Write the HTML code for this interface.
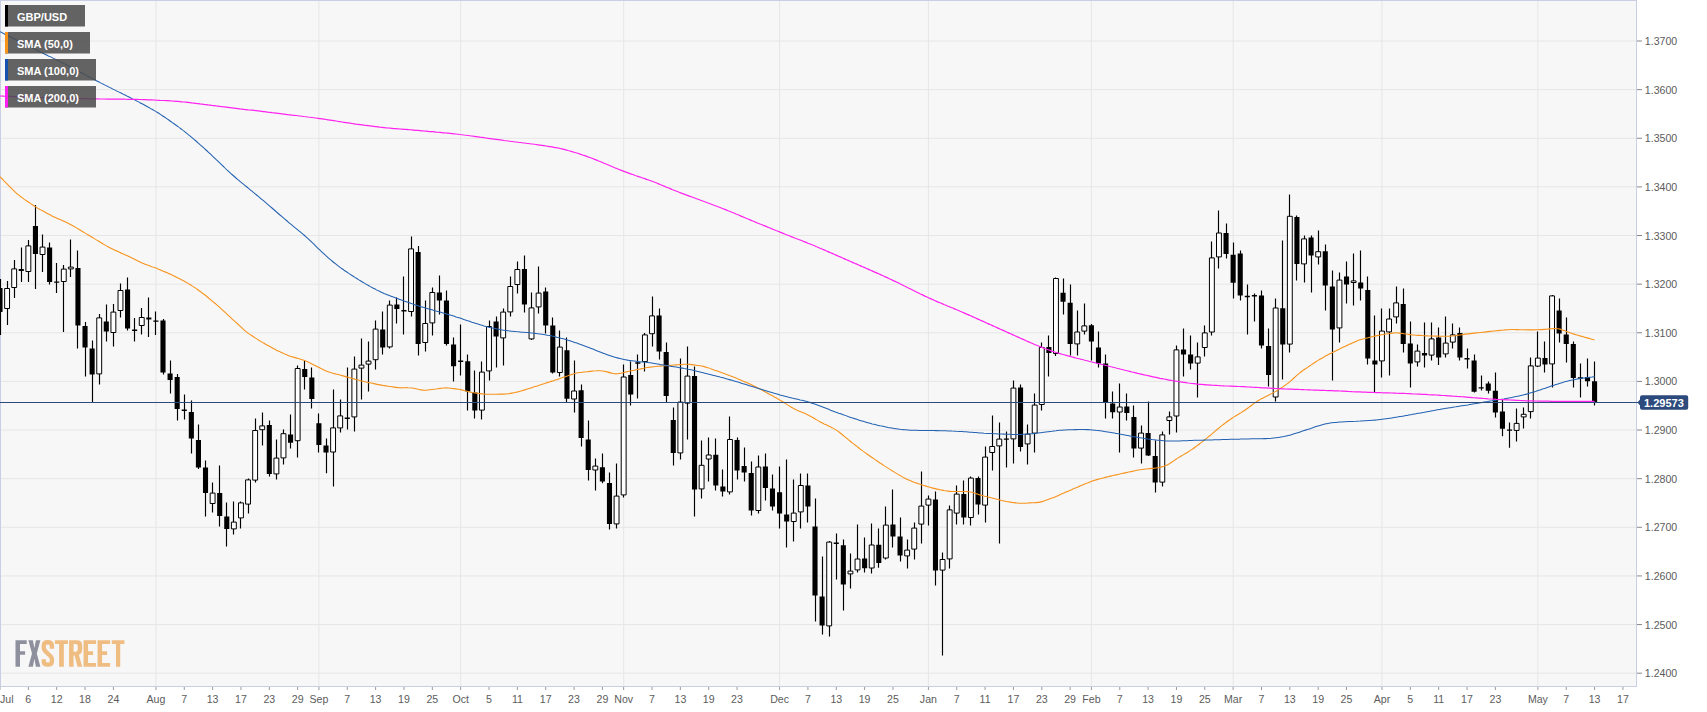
<!DOCTYPE html>
<html><head><meta charset="utf-8"><title>GBP/USD</title>
<style>
html,body{margin:0;padding:0;background:#fff;}
body{width:1707px;height:712px;overflow:hidden;font-family:"Liberation Sans",sans-serif;}
svg{display:block;}
text{font-family:"Liberation Sans",sans-serif;}
</style></head><body>
<svg width="1707" height="712" viewBox="0 0 1707 712">
<rect x="0" y="0" width="1707" height="712" fill="#ffffff"/>
<rect x="0" y="0" width="1636" height="686" fill="#f7f7f7"/>
<path d="M0,41.00H1636M0,89.63H1636M0,138.26H1636M0,186.89H1636M0,235.52H1636M0,284.15H1636M0,332.78H1636M0,381.41H1636M0,430.04H1636M0,478.67H1636M0,527.30H1636M0,575.93H1636M0,624.56H1636M0,673.19H1636M155.91,0V686M318.91,0V686M460.65,0V686M623.66,0V686M779.57,0V686M928.40,0V686M1091.40,0V686M1233.14,0V686M1381.96,0V686M1537.88,0V686" stroke="#e6e6e6" stroke-width="1" fill="none"/>
<path d="M0.5,0V686M0,0.5H1636M1636.5,0V686.5M0,686.5H1637" stroke="#c9cee2" stroke-width="1" fill="none"/>
<clipPath id="cp"><rect x="0" y="0" width="1636" height="686"/></clipPath>
<g clip-path="url(#cp)">
<path d="M0.5,279.0V335.0M7.5,281.0V325.0M14.5,260.0V298.0M21.5,247.4V282.0M28.5,240.0V282.0M35.5,205.0V289.0M42.5,234.6V272.0M49.5,242.6V284.4M56.5,263.0V293.0M63.5,265.0V332.0M70.5,239.4V277.0M77.5,250.6V348.4M85.5,322.0V376.4M92.5,340.6V402.0M99.5,314.0V384.4M106.5,304.6V341.6M113.5,304.0V346.4M120.5,283.6V317.4M127.5,277.4V330.4M134.5,318.0V341.4M141.5,308.0V334.4M148.5,297.6V337.0M155.5,311.6V335.0M163.5,319.0V374.4M170.5,360.6V393.4M177.5,374.0V420.4M184.5,394.6V419.4M191.5,400.6V453.4M198.5,424.4V469.0M205.5,460.6V516.6M212.5,482.6V512.4M219.5,465.6V526.6M226.5,502.4V546.6M233.5,501.6V534.4M240.5,501.6V528.6M248.5,478.4V513.6M255.5,418.4V482.4M262.5,412.6V445.5M269.5,420.6V476.6M276.5,439.5V479.4M283.5,429.5V464.4M290.5,414.6V448.4M297.5,365.6V457.5M304.5,360.6V389.4M311.5,367.4V408.4M318.5,413.6V452.4M326.5,438.5V473.3M333.5,389.6V486.4M340.5,399.5V432.4M347.5,367.6V429.6M354.5,356.4V431.4M361.5,338.6V399.4M368.5,341.6V391.4M375.5,320.6V369.4M382.5,311.4V354.5M389.5,300.4V348.6M396.5,297.4V323.6M403.5,276.4V334.6M411.5,236.4V316.6M418.5,246.0V355.5M425.5,300.6V351.4M432.5,287.4V335.6M439.5,275.6V314.4M446.5,290.4V345.6M453.5,337.6V381.4M460.5,324.4V375.4M467.5,354.5V410.4M474.5,370.4V418.6M481.5,361.6V419.4M489.5,320.6V380.6M496.5,316.6V367.4M503.5,308.6V365.5M510.5,276.4V316.6M517.5,261.4V293.4M524.5,255.4V312.4M531.5,292.6V340.0M538.5,266.4V313.6M545.5,287.4V333.6M552.5,317.6V373.4M559.5,330.4V376.4M566.5,337.4V402.0M574.5,360.4V412.4M581.5,384.4V446.5M588.5,420.6V480.4M595.5,458.6V490.4M602.5,453.6V483.2M609.5,472.5V529.4M616.5,463.6V528.4M623.5,364.4V497.4M630.5,361.6V405.5M637.5,354.4V398.6M644.5,333.0V371.5M652.5,296.4V346.5M659.5,308.6V359.5M666.5,342.4V402.0M673.5,407.6V465.5M680.5,358.4V459.5M687.5,346.4V439.6M694.5,366.4V516.4M701.5,440.4V498.4M708.5,437.4V481.4M715.5,438.6V490.4M722.5,469.4V496.4M729.5,416.4V494.4M737.5,437.6V479.4M744.5,447.4V481.4M751.5,461.4V515.4M758.5,455.5V513.4M765.5,453.6V500.4M772.5,474.4V510.4M779.5,466.5V528.6M786.5,459.4V547.5M793.5,479.4V541.5M800.5,473.5V528.4M807.5,473.5V522.4M815.5,498.5V621.4M822.5,556.5V634.4M829.5,541.0V636.4M836.5,533.5V579.4M843.5,539.4V610.4M850.5,553.4V588.5M857.5,524.5V572.5M864.5,537.4V572.5M871.5,523.4V573.5M878.5,528.4V567.7M885.5,506.4V559.5M892.5,489.4V547.5M900.5,517.4V561.5M907.5,539.4V568.4M914.5,522.6V559.4M921.5,471.4V543.4M928.5,495.6V525.4M935.5,491.6V585.4M942.5,552.4V655.6M949.5,505.6V568.4M956.5,485.6V524.4M963.5,480.4V524.4M970.5,476.4V525.4M978.5,476.4V514.4M985.5,446.4V522.4M992.5,415.5V470.4M999.5,422.4V543.4M1006.5,431.4V467.4M1013.5,380.6V463.4M1020.5,384.4V451.4M1027.5,424.4V464.4M1034.5,393.6V452.4M1041.5,342.4V410.6M1048.5,335.6V376.4M1055.5,277.4V356.0M1063.5,278.6V314.4M1070.5,284.6V355.6M1077.5,310.5V355.4M1084.5,303.5V334.4M1091.5,324.0V360.4M1098.5,331.5V367.6M1105.5,354.6V418.5M1112.5,391.5V418.4M1119.5,383.4V452.4M1126.5,393.4V420.5M1133.5,405.4V457.6M1141.5,425.6V463.4M1148.5,401.4V456.0M1155.5,440.4V492.6M1162.5,431.6V486.6M1169.5,411.4V434.4M1176.5,345.4V432.4M1183.5,328.5V376.4M1190.5,335.6V369.4M1197.5,342.4V397.5M1204.5,325.5V356.4M1211.5,241.5V335.4M1218.5,210.4V268.4M1226.5,223.4V258.4M1233.5,242.4V298.4M1240.5,250.4V300.4M1247.5,284.4V334.4M1254.5,293.6V321.5M1261.5,290.4V348.4M1268.5,328.5V386.4M1275.5,298.5V401.4M1282.5,240.4V379.4M1289.5,194.4V352.4M1296.5,215.4V280.6M1304.5,235.4V282.4M1311.5,235.4V292.4M1318.5,230.5V264.4M1325.5,244.4V310.4M1332.5,270.6V380.4M1339.5,272.6V342.4M1346.5,261.4V303.4M1353.5,253.4V305.4M1360.5,250.4V300.4M1367.5,276.6V364.4M1374.5,315.5V392.4M1381.5,308.5V377.4M1389.5,308.5V375.4M1396.5,286.5V323.4M1403.5,288.4V352.4M1410.5,321.5V387.4M1417.5,344.4V366.4M1424.5,322.5V367.4M1431.5,322.5V360.4M1438.5,327.4V365.0M1445.5,316.5V357.4M1452.5,323.5V348.4M1459.5,327.4V360.4M1467.5,348.4V368.4M1474.5,354.4V392.5M1481.5,375.4V390.5M1488.5,381.4V393.5M1495.5,372.4V417.4M1502.5,399.4V436.3M1509.5,422.4V447.8M1516.5,408.4V441.5M1523.5,407.4V428.6M1530.5,357.4V418.6M1537.5,331.4V367.0M1544.5,341.4V372.4M1552.5,295.0V387.5M1559.5,298.4V342.4M1566.5,317.4V362.4M1573.5,341.4V387.5M1580.5,363.4V397.4M1587.5,358.4V386.5M1594.5,361.4V405.6" stroke="#000" stroke-width="1.15" fill="none"/>
<path d="M4.64,288.5h4.9V308.5h-4.9zM11.72,268.9h4.9V287.5h-4.9zM25.90,245.9h4.9V271.5h-4.9zM40.07,247.1h4.9V254.5h-4.9zM61.33,269.1h4.9V281.5h-4.9zM68.42,267.1h4.9V268.9h-4.9zM96.77,317.9h4.9V373.9h-4.9zM110.94,312.1h4.9V332.5h-4.9zM118.03,290.5h4.9V310.5h-4.9zM139.29,317.5h4.9V325.5h-4.9zM210.16,493.1h4.9V503.5h-4.9zM231.42,522.1h4.9V528.9h-4.9zM238.51,502.9h4.9V517.9h-4.9zM245.59,479.9h4.9V504.1h-4.9zM252.68,430.5h4.9V480.1h-4.9zM259.77,425.9h4.9V429.7h-4.9zM273.94,458.1h4.9V473.9h-4.9zM281.03,433.7h4.9V457.9h-4.9zM295.20,368.5h4.9V440.7h-4.9zM330.64,427.9h4.9V452.0h-4.9zM337.73,415.9h4.9V427.9h-4.9zM351.90,369.1h4.9V416.9h-4.9zM358.99,365.1h4.9V368.1h-4.9zM366.07,361.1h4.9V364.1h-4.9zM373.16,329.1h4.9V359.7h-4.9zM387.33,305.1h4.9V346.9h-4.9zM408.60,248.9h4.9V311.5h-4.9zM422.77,323.5h4.9V342.5h-4.9zM429.86,292.5h4.9V322.9h-4.9zM479.47,372.1h4.9V410.1h-4.9zM486.55,326.5h4.9V370.9h-4.9zM500.73,312.1h4.9V337.9h-4.9zM507.81,286.5h4.9V311.9h-4.9zM514.90,269.5h4.9V284.5h-4.9zM529.07,307.9h4.9V338.9h-4.9zM536.16,293.1h4.9V306.9h-4.9zM557.42,347.1h4.9V372.5h-4.9zM571.60,391.0h4.9V399.0h-4.9zM592.86,466.1h4.9V470.0h-4.9zM614.12,496.1h4.9V523.9h-4.9zM621.21,377.0h4.9V494.9h-4.9zM642.47,334.9h4.9V361.5h-4.9zM649.55,315.9h4.9V333.7h-4.9zM677.90,402.1h4.9V452.9h-4.9zM684.99,376.1h4.9V403.1h-4.9zM699.16,465.3h4.9V488.9h-4.9zM706.25,455.0h4.9V459.0h-4.9zM727.51,439.5h4.9V491.9h-4.9zM755.86,467.0h4.9V510.5h-4.9zM791.29,513.1h4.9V521.5h-4.9zM798.38,485.5h4.9V511.9h-4.9zM826.73,542.1h4.9V625.9h-4.9zM847.99,571.1h4.9V573.9h-4.9zM855.08,559.0h4.9V569.9h-4.9zM869.25,545.0h4.9V568.0h-4.9zM883.42,525.1h4.9V558.0h-4.9zM904.69,550.1h4.9V555.9h-4.9zM911.77,528.1h4.9V549.1h-4.9zM918.86,506.1h4.9V524.1h-4.9zM925.95,499.1h4.9V505.1h-4.9zM940.12,559.5h4.9V570.1h-4.9zM947.21,509.9h4.9V558.9h-4.9zM954.29,494.1h4.9V513.1h-4.9zM968.47,478.1h4.9V517.5h-4.9zM982.64,457.1h4.9V505.1h-4.9zM989.73,446.5h4.9V452.5h-4.9zM996.82,439.1h4.9V445.9h-4.9zM1010.99,388.1h4.9V438.9h-4.9zM1025.16,434.1h4.9V443.9h-4.9zM1032.25,405.1h4.9V433.1h-4.9zM1039.34,347.5h4.9V404.5h-4.9zM1053.51,278.5h4.9V353.5h-4.9zM1074.77,332.0h4.9V343.9h-4.9zM1081.86,325.9h4.9V331.1h-4.9zM1117.30,407.0h4.9V412.0h-4.9zM1138.56,433.1h4.9V448.1h-4.9zM1159.82,434.9h4.9V482.1h-4.9zM1166.90,416.9h4.9V420.5h-4.9zM1173.99,349.9h4.9V416.0h-4.9zM1195.25,356.9h4.9V363.1h-4.9zM1202.34,332.9h4.9V347.5h-4.9zM1209.43,257.9h4.9V332.0h-4.9zM1216.51,233.0h4.9V256.9h-4.9zM1273.21,308.0h4.9V397.0h-4.9zM1287.38,216.3h4.9V344.1h-4.9zM1301.56,238.9h4.9V263.9h-4.9zM1315.73,251.7h4.9V256.9h-4.9zM1336.99,280.1h4.9V327.9h-4.9zM1351.17,280.9h4.9V282.5h-4.9zM1379.51,331.1h4.9V360.9h-4.9zM1386.60,319.0h4.9V331.9h-4.9zM1393.69,302.9h4.9V316.9h-4.9zM1414.95,351.1h4.9V361.9h-4.9zM1429.12,338.9h4.9V355.1h-4.9zM1443.30,343.1h4.9V353.9h-4.9zM1450.38,334.9h4.9V342.1h-4.9zM1514.17,423.4h4.9V430.4h-4.9zM1521.25,414.3h4.9V416.9h-4.9zM1528.34,365.9h4.9V411.6h-4.9zM1535.43,358.1h4.9V366.1h-4.9zM1549.60,295.9h4.9V363.9h-4.9z" stroke="#000" stroke-width="1" fill="#ffffff"/>
<path d="M-2.55,288.0h5.1V312.0h-5.1zM18.71,269.0h5.1V271.0h-5.1zM32.89,226.0h5.1V254.0h-5.1zM47.06,247.4h5.1V282.0h-5.1zM54.15,281.4h5.1V282.8h-5.1zM75.41,268.0h5.1V325.4h-5.1zM82.49,326.0h5.1V347.6h-5.1zM89.58,348.4h5.1V374.4h-5.1zM103.75,321.4h5.1V331.4h-5.1zM125.02,289.6h5.1V328.6h-5.1zM132.10,329.6h5.1V331.0h-5.1zM146.28,317.6h5.1V319.4h-5.1zM153.36,320.4h5.1V321.8h-5.1zM160.45,320.6h5.1V372.4h-5.1zM167.54,373.6h5.1V380.0h-5.1zM174.62,377.0h5.1V409.0h-5.1zM181.71,409.4h5.1V411.0h-5.1zM188.80,412.0h5.1V438.4h-5.1zM195.89,440.0h5.1V467.4h-5.1zM202.97,467.6h5.1V493.0h-5.1zM217.15,493.0h5.1V516.0h-5.1zM224.23,516.4h5.1V529.0h-5.1zM266.76,425.0h5.1V474.0h-5.1zM288.02,434.5h5.1V442.8h-5.1zM302.19,369.0h5.1V377.0h-5.1zM309.28,377.6h5.1V399.0h-5.1zM316.36,423.3h5.1V445.0h-5.1zM323.45,445.5h5.1V452.5h-5.1zM344.71,417.4h5.1V419.0h-5.1zM380.15,329.6h5.1V347.4h-5.1zM394.32,304.6h5.1V309.0h-5.1zM401.41,310.0h5.1V311.4h-5.1zM415.58,252.0h5.1V344.0h-5.1zM436.84,292.4h5.1V300.6h-5.1zM443.93,300.6h5.1V344.0h-5.1zM451.02,344.6h5.1V366.3h-5.1zM458.10,360.6h5.1V362.1h-5.1zM465.19,361.2h5.1V391.4h-5.1zM472.28,392.4h5.1V410.4h-5.1zM493.54,321.4h5.1V336.4h-5.1zM521.89,269.0h5.1V304.6h-5.1zM543.15,291.4h5.1V325.6h-5.1zM550.24,325.6h5.1V372.6h-5.1zM564.41,350.3h5.1V398.8h-5.1zM578.58,390.2h5.1V438.0h-5.1zM585.67,439.4h5.1V470.0h-5.1zM599.85,467.3h5.1V481.5h-5.1zM606.93,483.0h5.1V524.0h-5.1zM628.19,375.0h5.1V394.6h-5.1zM635.28,362.3h5.1V363.7h-5.1zM656.54,315.4h5.1V351.6h-5.1zM663.63,352.0h5.1V396.0h-5.1zM670.72,420.0h5.1V453.0h-5.1zM691.98,376.0h5.1V489.4h-5.1zM713.24,454.8h5.1V485.6h-5.1zM720.32,486.4h5.1V491.6h-5.1zM734.50,440.0h5.1V470.6h-5.1zM741.59,466.0h5.1V472.4h-5.1zM748.67,473.0h5.1V510.6h-5.1zM762.85,466.5h5.1V488.0h-5.1zM769.93,488.4h5.1V506.6h-5.1zM777.02,492.2h5.1V513.6h-5.1zM784.11,514.4h5.1V521.6h-5.1zM805.37,485.4h5.1V506.6h-5.1zM812.46,526.4h5.1V595.6h-5.1zM819.54,596.4h5.1V625.6h-5.1zM833.72,542.5h5.1V544.0h-5.1zM840.80,545.2h5.1V584.5h-5.1zM862.06,558.6h5.1V568.2h-5.1zM876.24,544.8h5.1V563.0h-5.1zM890.41,524.4h5.1V536.4h-5.1zM897.50,536.5h5.1V555.5h-5.1zM932.93,499.4h5.1V570.4h-5.1zM961.28,494.0h5.1V517.4h-5.1zM975.46,478.0h5.1V504.6h-5.1zM1003.80,438.4h5.1V439.8h-5.1zM1017.98,387.6h5.1V447.0h-5.1zM1046.33,347.0h5.1V353.0h-5.1zM1060.50,292.8h5.1V301.8h-5.1zM1067.59,302.7h5.1V344.0h-5.1zM1088.85,325.2h5.1V341.6h-5.1zM1095.93,347.4h5.1V363.4h-5.1zM1103.02,363.4h5.1V402.8h-5.1zM1110.11,403.5h5.1V412.2h-5.1zM1124.28,406.5h5.1V413.0h-5.1zM1131.37,417.0h5.1V448.6h-5.1zM1145.54,433.0h5.1V455.6h-5.1zM1152.63,456.0h5.1V482.6h-5.1zM1180.98,349.4h5.1V354.4h-5.1zM1188.07,354.6h5.1V363.4h-5.1zM1223.50,233.0h5.1V254.0h-5.1zM1230.59,254.8h5.1V282.8h-5.1zM1237.67,253.5h5.1V295.6h-5.1zM1244.76,295.8h5.1V297.2h-5.1zM1251.85,295.0h5.1V296.5h-5.1zM1258.94,295.5h5.1V345.6h-5.1zM1266.02,346.0h5.1V375.0h-5.1zM1280.20,308.2h5.1V344.6h-5.1zM1294.37,217.0h5.1V264.0h-5.1zM1308.55,237.5h5.1V255.6h-5.1zM1322.72,251.2h5.1V285.6h-5.1zM1329.81,286.6h5.1V329.4h-5.1zM1343.98,276.6h5.1V284.6h-5.1zM1358.15,282.4h5.1V288.4h-5.1zM1365.24,290.0h5.1V358.4h-5.1zM1372.33,360.6h5.1V364.4h-5.1zM1400.68,304.0h5.1V344.0h-5.1zM1407.76,343.6h5.1V363.6h-5.1zM1421.94,353.0h5.1V355.6h-5.1zM1436.11,337.4h5.1V357.4h-5.1zM1457.37,333.0h5.1V357.4h-5.1zM1464.46,358.0h5.1V359.4h-5.1zM1471.55,360.4h5.1V391.8h-5.1zM1478.63,387.2h5.1V388.6h-5.1zM1485.72,383.5h5.1V390.8h-5.1zM1492.81,390.8h5.1V412.4h-5.1zM1499.89,411.4h5.1V428.7h-5.1zM1506.98,429.4h5.1V430.8h-5.1zM1542.42,358.0h5.1V364.6h-5.1zM1556.59,310.4h5.1V333.6h-5.1zM1563.68,334.6h5.1V344.0h-5.1zM1570.76,344.0h5.1V378.0h-5.1zM1577.85,377.3h5.1V378.7h-5.1zM1584.94,377.0h5.1V381.2h-5.1zM1592.03,381.3h5.1V402.2h-5.1z" fill="#000" stroke="none"/>
<path d="M0.0,176.7C0.7,177.4 2.7,179.4 4.0,180.8C5.3,182.1 6.7,183.5 8.0,184.8C9.3,186.2 10.7,187.6 12.0,188.9C13.3,190.2 14.7,191.6 16.0,192.8C17.3,194.0 18.7,195.1 20.0,196.2C21.3,197.2 22.7,198.1 24.0,199.1C25.3,200.0 26.7,200.9 28.0,201.8C29.3,202.7 30.7,203.6 32.0,204.5C33.3,205.4 34.7,206.3 36.0,207.1C37.3,207.9 38.7,208.7 40.0,209.4C41.3,210.2 42.7,210.9 44.0,211.6C45.3,212.3 46.7,213.1 48.0,213.8C49.3,214.5 50.7,215.2 52.0,215.9C53.3,216.6 54.7,217.2 56.0,217.8C57.3,218.4 58.7,219.0 60.0,219.6C61.3,220.2 62.7,220.7 64.0,221.3C65.3,221.9 66.7,222.5 68.0,223.2C69.3,223.9 70.7,224.5 72.0,225.3C73.3,226.0 74.7,226.8 76.0,227.6C77.3,228.4 78.7,229.2 80.0,230.0C81.3,230.8 82.7,231.6 84.0,232.4C85.3,233.2 86.7,234.0 88.0,234.8C89.3,235.6 90.7,236.4 92.0,237.2C93.3,238.0 94.7,238.8 96.0,239.6C97.3,240.4 98.7,241.2 100.0,242.0C101.3,242.8 102.7,243.6 104.0,244.4C105.3,245.2 106.7,246.0 108.0,246.7C109.3,247.5 110.7,248.2 112.0,248.8C113.3,249.5 114.7,250.1 116.0,250.7C117.3,251.3 118.7,251.9 120.0,252.5C121.3,253.1 122.7,253.7 124.0,254.3C125.3,254.9 126.7,255.5 128.0,256.1C129.3,256.7 130.7,257.4 132.0,258.0C133.3,258.7 134.7,259.3 136.0,260.0C137.3,260.7 138.7,261.4 140.0,262.0C141.3,262.6 142.7,263.3 144.0,263.8C145.3,264.4 146.7,264.8 148.0,265.3C149.3,265.8 150.7,266.2 152.0,266.7C153.3,267.1 154.7,267.6 156.0,268.1C157.3,268.6 158.7,269.2 160.0,269.7C161.3,270.3 162.7,270.9 164.0,271.4C165.3,272.0 166.7,272.6 168.0,273.2C169.3,273.8 170.7,274.4 172.0,275.0C173.3,275.7 174.7,276.3 176.0,277.0C177.3,277.7 178.7,278.3 180.0,279.0C181.3,279.7 182.7,280.3 184.0,281.1C185.3,281.8 186.7,282.6 188.0,283.4C189.3,284.2 190.7,285.0 192.0,285.9C193.3,286.7 194.7,287.6 196.0,288.4C197.3,289.3 198.7,290.2 200.0,291.2C201.3,292.1 202.7,293.2 204.0,294.3C205.3,295.3 206.7,296.4 208.0,297.5C209.3,298.6 210.7,299.7 212.0,300.8C213.3,301.9 214.7,303.0 216.0,304.1C217.3,305.3 218.7,306.5 220.0,307.7C221.3,308.9 222.7,310.2 224.0,311.4C225.3,312.7 226.7,313.9 228.0,315.1C229.3,316.4 230.7,317.6 232.0,318.8C233.3,320.0 234.7,321.2 236.0,322.4C237.3,323.6 238.7,324.9 240.0,326.1C241.3,327.3 242.7,328.6 244.0,329.8C245.3,331.0 246.7,332.1 248.0,333.1C249.3,334.1 250.7,335.0 252.0,335.8C253.3,336.7 254.7,337.6 256.0,338.4C257.3,339.3 258.7,340.1 260.0,340.9C261.3,341.7 262.7,342.5 264.0,343.2C265.3,344.0 266.7,344.8 268.0,345.5C269.3,346.2 270.7,347.0 272.0,347.7C273.3,348.5 274.7,349.2 276.0,349.9C277.3,350.6 278.7,351.2 280.0,351.8C281.3,352.4 282.7,353.1 284.0,353.7C285.3,354.2 286.7,354.9 288.0,355.4C289.3,355.9 290.7,356.4 292.0,356.8C293.3,357.2 294.7,357.6 296.0,357.9C297.3,358.3 298.7,358.6 300.0,359.0C301.3,359.4 302.7,359.7 304.0,360.2C305.3,360.7 306.7,361.4 308.0,362.0C309.3,362.6 310.7,363.3 312.0,364.0C313.3,364.7 314.7,365.3 316.0,366.0C317.3,366.7 318.7,367.3 320.0,368.0C321.3,368.7 322.7,369.4 324.0,370.0C325.3,370.6 326.7,371.3 328.0,371.8C329.3,372.3 330.7,372.6 332.0,373.0C333.3,373.4 334.7,373.7 336.0,374.0C337.3,374.3 338.7,374.7 340.0,375.0C341.3,375.4 342.7,375.8 344.0,376.1C345.3,376.5 346.7,376.9 348.0,377.2C349.3,377.6 350.7,378.0 352.0,378.4C353.3,378.7 354.7,379.1 356.0,379.5C357.3,379.8 358.7,380.2 360.0,380.5C361.3,380.9 362.7,381.2 364.0,381.5C365.3,381.8 366.7,382.1 368.0,382.4C369.3,382.7 370.7,382.9 372.0,383.2C373.3,383.5 374.7,383.8 376.0,384.1C377.3,384.4 378.7,384.7 380.0,384.9C381.3,385.2 382.7,385.4 384.0,385.6C385.3,385.8 386.7,386.0 388.0,386.2C389.3,386.4 390.7,386.6 392.0,386.8C393.3,387.0 394.7,387.2 396.0,387.4C397.3,387.6 398.7,387.7 400.0,387.8C401.3,387.9 402.7,387.8 404.0,387.8C405.3,387.7 406.7,387.6 408.0,387.7C409.3,387.7 410.7,387.8 412.0,388.0C413.3,388.2 414.7,388.5 416.0,388.8C417.3,389.1 418.7,389.4 420.0,389.7C421.3,389.9 422.7,390.2 424.0,390.2C425.3,390.3 426.7,390.2 428.0,390.0C429.3,389.9 430.7,389.7 432.0,389.5C433.3,389.3 434.7,389.1 436.0,389.0C437.3,388.8 438.7,388.6 440.0,388.4C441.3,388.3 442.7,388.1 444.0,388.0C445.3,387.9 446.7,387.9 448.0,388.0C449.3,388.1 450.7,388.2 452.0,388.4C453.3,388.5 454.7,388.7 456.0,388.9C457.3,389.1 458.7,389.3 460.0,389.5C461.3,389.8 462.7,390.1 464.0,390.5C465.3,390.8 466.7,391.2 468.0,391.5C469.3,391.9 470.7,392.2 472.0,392.5C473.3,392.7 474.7,392.9 476.0,393.1C477.3,393.3 478.7,393.5 480.0,393.6C481.3,393.8 482.7,394.0 484.0,394.1C485.3,394.2 486.7,394.2 488.0,394.3C489.3,394.3 490.7,394.3 492.0,394.3C493.3,394.3 494.7,394.2 496.0,394.2C497.3,394.2 498.7,394.2 500.0,394.1C501.3,394.1 502.7,394.1 504.0,394.1C505.3,394.0 506.7,394.0 508.0,393.8C509.3,393.6 510.7,393.4 512.0,393.1C513.3,392.9 514.7,392.6 516.0,392.3C517.3,392.0 518.7,391.7 520.0,391.3C521.3,390.9 522.7,390.5 524.0,390.1C525.3,389.7 526.7,389.3 528.0,388.8C529.3,388.4 530.7,388.0 532.0,387.6C533.3,387.1 534.7,386.7 536.0,386.3C537.3,385.9 538.7,385.4 540.0,385.0C541.3,384.6 542.7,384.1 544.0,383.7C545.3,383.3 546.7,382.8 548.0,382.4C549.3,382.0 550.7,381.5 552.0,381.1C553.3,380.7 554.7,380.2 556.0,379.8C557.3,379.4 558.7,378.9 560.0,378.5C561.3,378.0 562.7,377.6 564.0,377.1C565.3,376.7 566.7,376.2 568.0,375.8C569.3,375.3 570.7,374.8 572.0,374.4C573.3,374.0 574.7,373.5 576.0,373.2C577.3,372.9 578.7,372.7 580.0,372.5C581.3,372.3 582.7,372.2 584.0,372.0C585.3,371.9 586.7,371.7 588.0,371.6C589.3,371.4 590.7,371.2 592.0,371.1C593.3,371.0 594.7,370.8 596.0,370.8C597.3,370.7 598.7,370.7 600.0,370.8C601.3,370.9 602.7,371.0 604.0,371.2C605.3,371.5 606.7,371.8 608.0,372.1C609.3,372.5 610.7,372.9 612.0,373.2C613.3,373.5 614.7,373.8 616.0,373.9C617.3,373.9 618.7,373.6 620.0,373.4C621.3,373.2 622.7,372.8 624.0,372.5C625.3,372.1 626.7,371.8 628.0,371.5C629.3,371.2 630.7,370.9 632.0,370.6C633.3,370.3 634.7,370.1 636.0,369.8C637.3,369.5 638.7,369.3 640.0,369.0C641.3,368.7 642.7,368.5 644.0,368.2C645.3,367.9 646.7,367.7 648.0,367.5C649.3,367.2 650.7,367.0 652.0,366.9C653.3,366.7 654.7,366.6 656.0,366.5C657.3,366.4 658.7,366.2 660.0,366.1C661.3,366.0 662.7,365.9 664.0,365.8C665.3,365.7 666.7,365.6 668.0,365.5C669.3,365.4 670.7,365.3 672.0,365.2C673.3,365.1 674.7,365.0 676.0,364.9C677.3,364.8 678.7,364.7 680.0,364.6C681.3,364.5 682.7,364.4 684.0,364.3C685.3,364.2 686.7,364.2 688.0,364.2C689.3,364.3 690.7,364.5 692.0,364.6C693.3,364.8 694.7,365.0 696.0,365.2C697.3,365.4 698.7,365.6 700.0,365.8C701.3,366.0 702.7,366.3 704.0,366.6C705.3,366.9 706.7,367.4 708.0,367.8C709.3,368.2 710.7,368.7 712.0,369.2C713.3,369.7 714.7,370.1 716.0,370.6C717.3,371.1 718.7,371.6 720.0,372.1C721.3,372.6 722.7,373.1 724.0,373.6C725.3,374.1 726.7,374.5 728.0,375.0C729.3,375.5 730.7,376.0 732.0,376.5C733.3,377.0 734.7,377.5 736.0,378.1C737.3,378.6 738.7,379.2 740.0,379.7C741.3,380.3 742.7,380.9 744.0,381.4C745.3,382.0 746.7,382.6 748.0,383.2C749.3,383.8 750.7,384.4 752.0,385.0C753.3,385.7 754.7,386.3 756.0,387.0C757.3,387.7 758.7,388.4 760.0,389.0C761.3,389.7 762.7,390.5 764.0,391.2C765.3,391.9 766.7,392.7 768.0,393.4C769.3,394.1 770.7,394.9 772.0,395.6C773.3,396.3 774.7,397.1 776.0,397.8C777.3,398.6 778.7,399.3 780.0,400.1C781.3,400.9 782.7,401.7 784.0,402.6C785.3,403.4 786.7,404.3 788.0,405.1C789.3,406.0 790.7,406.8 792.0,407.6C793.3,408.3 794.7,409.0 796.0,409.7C797.3,410.3 798.7,410.9 800.0,411.4C801.3,412.0 802.7,412.5 804.0,413.1C805.3,413.7 806.7,414.2 808.0,414.9C809.3,415.6 810.7,416.3 812.0,417.1C813.3,417.8 814.7,418.7 816.0,419.4C817.3,420.2 818.7,421.0 820.0,421.7C821.3,422.5 822.7,423.2 824.0,423.9C825.3,424.5 826.7,425.1 828.0,425.8C829.3,426.4 830.7,427.0 832.0,427.7C833.3,428.3 834.7,429.0 836.0,429.9C837.3,430.7 838.7,431.8 840.0,432.8C841.3,433.8 842.7,435.0 844.0,436.1C845.3,437.2 846.7,438.3 848.0,439.3C849.3,440.4 850.7,441.5 852.0,442.6C853.3,443.6 854.7,444.7 856.0,445.7C857.3,446.8 858.7,447.8 860.0,448.9C861.3,449.9 862.7,450.9 864.0,451.9C865.3,452.9 866.7,453.8 868.0,454.7C869.3,455.7 870.7,456.6 872.0,457.5C873.3,458.4 874.7,459.3 876.0,460.2C877.3,461.2 878.7,462.1 880.0,463.0C881.3,463.8 882.7,464.7 884.0,465.6C885.3,466.4 886.7,467.3 888.0,468.1C889.3,469.0 890.7,469.8 892.0,470.7C893.3,471.5 894.7,472.3 896.0,473.1C897.3,473.9 898.7,474.7 900.0,475.4C901.3,476.2 902.7,477.0 904.0,477.7C905.3,478.4 906.7,479.2 908.0,479.8C909.3,480.4 910.7,480.9 912.0,481.4C913.3,481.9 914.7,482.4 916.0,482.9C917.3,483.3 918.7,483.8 920.0,484.2C921.3,484.7 922.7,485.1 924.0,485.5C925.3,485.9 926.7,486.3 928.0,486.7C929.3,487.1 930.7,487.5 932.0,487.9C933.3,488.2 934.7,488.6 936.0,488.9C937.3,489.2 938.7,489.5 940.0,489.7C941.3,490.0 942.7,490.2 944.0,490.5C945.3,490.7 946.7,491.0 948.0,491.1C949.3,491.3 950.7,491.4 952.0,491.5C953.3,491.5 954.7,491.5 956.0,491.5C957.3,491.5 958.7,491.5 960.0,491.5C961.3,491.5 962.7,491.5 964.0,491.5C965.3,491.5 966.7,491.5 968.0,491.6C969.3,491.8 970.7,492.0 972.0,492.3C973.3,492.6 974.7,493.1 976.0,493.6C977.3,494.0 978.7,494.5 980.0,494.9C981.3,495.3 982.7,495.6 984.0,496.0C985.3,496.3 986.7,496.7 988.0,497.0C989.3,497.3 990.7,497.7 992.0,498.0C993.3,498.3 994.7,498.7 996.0,499.0C997.3,499.4 998.7,499.7 1000.0,500.1C1001.3,500.4 1002.7,500.7 1004.0,501.0C1005.3,501.3 1006.7,501.6 1008.0,501.8C1009.3,502.0 1010.7,502.2 1012.0,502.4C1013.3,502.5 1014.7,502.7 1016.0,502.9C1017.3,503.0 1018.7,503.2 1020.0,503.2C1021.3,503.3 1022.7,503.2 1024.0,503.2C1025.3,503.2 1026.7,503.1 1028.0,503.0C1029.3,502.9 1030.7,502.9 1032.0,502.8C1033.3,502.7 1034.7,502.7 1036.0,502.6C1037.3,502.5 1038.7,502.4 1040.0,502.1C1041.3,501.8 1042.7,501.4 1044.0,501.0C1045.3,500.6 1046.7,500.1 1048.0,499.6C1049.3,499.1 1050.7,498.6 1052.0,498.1C1053.3,497.6 1054.7,497.0 1056.0,496.4C1057.3,495.9 1058.7,495.3 1060.0,494.7C1061.3,494.1 1062.7,493.6 1064.0,493.0C1065.3,492.4 1066.7,491.8 1068.0,491.2C1069.3,490.7 1070.7,490.1 1072.0,489.5C1073.3,488.9 1074.7,488.3 1076.0,487.8C1077.3,487.2 1078.7,486.6 1080.0,486.0C1081.3,485.5 1082.7,484.9 1084.0,484.3C1085.3,483.8 1086.7,483.2 1088.0,482.7C1089.3,482.1 1090.7,481.6 1092.0,481.1C1093.3,480.7 1094.7,480.3 1096.0,479.9C1097.3,479.5 1098.7,479.2 1100.0,478.8C1101.3,478.4 1102.7,478.1 1104.0,477.7C1105.3,477.3 1106.7,477.0 1108.0,476.7C1109.3,476.3 1110.7,476.0 1112.0,475.7C1113.3,475.4 1114.7,475.2 1116.0,474.9C1117.3,474.6 1118.7,474.3 1120.0,474.0C1121.3,473.7 1122.7,473.4 1124.0,473.1C1125.3,472.8 1126.7,472.5 1128.0,472.2C1129.3,471.9 1130.7,471.7 1132.0,471.4C1133.3,471.1 1134.7,470.8 1136.0,470.5C1137.3,470.2 1138.7,469.9 1140.0,469.7C1141.3,469.5 1142.7,469.4 1144.0,469.2C1145.3,469.1 1146.7,468.9 1148.0,468.8C1149.3,468.7 1150.7,468.5 1152.0,468.4C1153.3,468.3 1154.7,468.2 1156.0,468.0C1157.3,467.8 1158.7,467.7 1160.0,467.4C1161.3,467.1 1162.7,466.7 1164.0,466.3C1165.3,465.8 1166.7,465.3 1168.0,464.6C1169.3,463.9 1170.7,462.9 1172.0,462.0C1173.3,461.1 1174.7,460.1 1176.0,459.2C1177.3,458.3 1178.7,457.5 1180.0,456.7C1181.3,455.9 1182.7,455.2 1184.0,454.4C1185.3,453.6 1186.7,452.9 1188.0,452.0C1189.3,451.2 1190.7,450.3 1192.0,449.4C1193.3,448.5 1194.7,447.5 1196.0,446.5C1197.3,445.5 1198.7,444.5 1200.0,443.5C1201.3,442.5 1202.7,441.5 1204.0,440.4C1205.3,439.4 1206.7,438.3 1208.0,437.2C1209.3,436.1 1210.7,435.0 1212.0,433.9C1213.3,432.7 1214.7,431.6 1216.0,430.4C1217.3,429.3 1218.7,428.2 1220.0,427.1C1221.3,426.0 1222.7,425.0 1224.0,424.0C1225.3,423.0 1226.7,422.0 1228.0,421.0C1229.3,420.0 1230.7,419.1 1232.0,418.2C1233.3,417.3 1234.7,416.5 1236.0,415.7C1237.3,414.9 1238.7,414.1 1240.0,413.3C1241.3,412.5 1242.7,411.7 1244.0,410.8C1245.3,409.9 1246.7,409.0 1248.0,408.0C1249.3,407.0 1250.7,406.0 1252.0,405.0C1253.3,404.0 1254.7,403.0 1256.0,402.1C1257.3,401.2 1258.7,400.4 1260.0,399.6C1261.3,398.9 1262.7,398.2 1264.0,397.5C1265.3,396.8 1266.7,396.2 1268.0,395.5C1269.3,394.8 1270.7,394.2 1272.0,393.4C1273.3,392.7 1274.7,391.9 1276.0,391.1C1277.3,390.3 1278.7,389.5 1280.0,388.6C1281.3,387.8 1282.7,387.0 1284.0,386.1C1285.3,385.2 1286.7,384.3 1288.0,383.2C1289.3,382.2 1290.7,381.0 1292.0,379.8C1293.3,378.6 1294.7,377.4 1296.0,376.2C1297.3,375.0 1298.7,373.8 1300.0,372.7C1301.3,371.7 1302.7,370.8 1304.0,369.8C1305.3,368.9 1306.7,368.0 1308.0,367.1C1309.3,366.2 1310.7,365.3 1312.0,364.4C1313.3,363.5 1314.7,362.6 1316.0,361.7C1317.3,360.8 1318.7,360.0 1320.0,359.2C1321.3,358.4 1322.7,357.6 1324.0,356.9C1325.3,356.2 1326.7,355.5 1328.0,354.8C1329.3,354.1 1330.7,353.5 1332.0,352.8C1333.3,352.1 1334.7,351.4 1336.0,350.7C1337.3,350.0 1338.7,349.3 1340.0,348.7C1341.3,348.0 1342.7,347.4 1344.0,346.8C1345.3,346.2 1346.7,345.6 1348.0,345.0C1349.3,344.4 1350.7,343.8 1352.0,343.2C1353.3,342.6 1354.7,342.0 1356.0,341.4C1357.3,340.9 1358.7,340.3 1360.0,339.8C1361.3,339.4 1362.7,339.0 1364.0,338.7C1365.3,338.4 1366.7,338.1 1368.0,337.8C1369.3,337.5 1370.7,337.1 1372.0,336.8C1373.3,336.5 1374.7,336.2 1376.0,335.9C1377.3,335.6 1378.7,335.3 1380.0,335.1C1381.3,334.8 1382.7,334.6 1384.0,334.4C1385.3,334.1 1386.7,333.9 1388.0,333.7C1389.3,333.5 1390.7,333.2 1392.0,333.1C1393.3,332.9 1394.7,332.7 1396.0,332.7C1397.3,332.7 1398.7,332.9 1400.0,333.1C1401.3,333.2 1402.7,333.5 1404.0,333.7C1405.3,333.9 1406.7,334.1 1408.0,334.3C1409.3,334.5 1410.7,334.7 1412.0,334.9C1413.3,335.0 1414.7,335.1 1416.0,335.2C1417.3,335.3 1418.7,335.4 1420.0,335.4C1421.3,335.5 1422.7,335.6 1424.0,335.7C1425.3,335.7 1426.7,335.8 1428.0,335.9C1429.3,335.9 1430.7,336.0 1432.0,336.0C1433.3,336.1 1434.7,336.1 1436.0,336.1C1437.3,336.1 1438.7,336.2 1440.0,336.2C1441.3,336.2 1442.7,336.3 1444.0,336.3C1445.3,336.3 1446.7,336.3 1448.0,336.3C1449.3,336.2 1450.7,336.2 1452.0,336.0C1453.3,335.9 1454.7,335.7 1456.0,335.6C1457.3,335.4 1458.7,335.2 1460.0,335.0C1461.3,334.8 1462.7,334.6 1464.0,334.4C1465.3,334.3 1466.7,334.1 1468.0,333.9C1469.3,333.7 1470.7,333.6 1472.0,333.4C1473.3,333.2 1474.7,333.1 1476.0,332.9C1477.3,332.8 1478.7,332.6 1480.0,332.5C1481.3,332.4 1482.7,332.2 1484.0,332.1C1485.3,331.9 1486.7,331.8 1488.0,331.6C1489.3,331.5 1490.7,331.3 1492.0,331.2C1493.3,331.1 1494.7,330.9 1496.0,330.8C1497.3,330.7 1498.7,330.5 1500.0,330.4C1501.3,330.3 1502.7,330.1 1504.0,330.0C1505.3,329.9 1506.7,329.7 1508.0,329.7C1509.3,329.6 1510.7,329.5 1512.0,329.5C1513.3,329.5 1514.7,329.6 1516.0,329.6C1517.3,329.6 1518.7,329.7 1520.0,329.7C1521.3,329.7 1522.7,329.8 1524.0,329.8C1525.3,329.9 1526.7,329.9 1528.0,329.9C1529.3,329.9 1530.7,329.9 1532.0,329.9C1533.3,329.9 1534.7,329.8 1536.0,329.8C1537.3,329.7 1538.7,329.7 1540.0,329.6C1541.3,329.6 1542.7,329.5 1544.0,329.4C1545.3,329.4 1546.7,329.2 1548.0,329.1C1549.3,329.0 1550.7,328.8 1552.0,328.7C1553.3,328.6 1554.7,328.4 1556.0,328.5C1557.3,328.6 1558.7,328.8 1560.0,329.1C1561.3,329.4 1562.7,330.0 1564.0,330.5C1565.3,331.0 1566.7,331.6 1568.0,332.1C1569.3,332.6 1570.7,333.1 1572.0,333.5C1573.3,333.9 1574.7,334.3 1576.0,334.7C1577.3,335.1 1578.7,335.5 1580.0,335.9C1581.3,336.2 1582.7,336.6 1584.0,337.0C1585.3,337.4 1586.7,337.8 1588.0,338.1C1589.3,338.5 1590.9,338.9 1592.0,339.2C1593.1,339.5 1594.2,339.9 1594.6,340.0" stroke="#f7941d" stroke-width="1.1" fill="none" stroke-linejoin="round"/>
<path d="M0.0,31.7C0.7,32.0 2.7,33.0 4.0,33.7C5.3,34.4 6.7,35.1 8.0,35.7C9.3,36.4 10.7,37.1 12.0,37.7C13.3,38.4 14.7,39.1 16.0,39.7C17.3,40.4 18.7,41.1 20.0,41.8C21.3,42.4 22.7,43.1 24.0,43.8C25.3,44.4 26.7,45.1 28.0,45.8C29.3,46.4 30.7,47.1 32.0,47.8C33.3,48.4 34.7,49.1 36.0,49.8C37.3,50.4 38.7,51.1 40.0,51.7C41.3,52.4 42.7,53.0 44.0,53.7C45.3,54.4 46.7,55.0 48.0,55.7C49.3,56.3 50.7,57.0 52.0,57.6C53.3,58.3 54.7,58.9 56.0,59.6C57.3,60.3 58.7,60.9 60.0,61.6C61.3,62.3 62.7,62.9 64.0,63.6C65.3,64.3 66.7,65.0 68.0,65.6C69.3,66.3 70.7,67.0 72.0,67.7C73.3,68.4 74.7,69.1 76.0,69.8C77.3,70.6 78.7,71.3 80.0,72.0C81.3,72.7 82.7,73.4 84.0,74.1C85.3,74.8 86.7,75.5 88.0,76.3C89.3,77.0 90.7,77.7 92.0,78.4C93.3,79.1 94.7,79.8 96.0,80.5C97.3,81.2 98.7,81.9 100.0,82.6C101.3,83.3 102.7,84.0 104.0,84.6C105.3,85.3 106.7,86.0 108.0,86.6C109.3,87.3 110.7,88.0 112.0,88.6C113.3,89.3 114.7,89.9 116.0,90.6C117.3,91.3 118.7,91.9 120.0,92.6C121.3,93.2 122.7,93.9 124.0,94.6C125.3,95.2 126.7,95.9 128.0,96.6C129.3,97.2 130.7,97.9 132.0,98.6C133.3,99.3 134.7,100.0 136.0,100.6C137.3,101.3 138.7,102.0 140.0,102.7C141.3,103.4 142.7,104.1 144.0,104.8C145.3,105.6 146.7,106.3 148.0,107.0C149.3,107.7 150.7,108.5 152.0,109.2C153.3,110.0 154.7,110.8 156.0,111.6C157.3,112.4 158.7,113.2 160.0,114.1C161.3,115.0 162.7,115.9 164.0,116.8C165.3,117.7 166.7,118.6 168.0,119.5C169.3,120.5 170.7,121.4 172.0,122.4C173.3,123.3 174.7,124.3 176.0,125.2C177.3,126.2 178.7,127.2 180.0,128.2C181.3,129.2 182.7,130.2 184.0,131.2C185.3,132.2 186.7,133.3 188.0,134.4C189.3,135.4 190.7,136.5 192.0,137.6C193.3,138.7 194.7,139.9 196.0,141.0C197.3,142.2 198.7,143.4 200.0,144.6C201.3,145.7 202.7,146.9 204.0,148.2C205.3,149.4 206.7,150.6 208.0,151.8C209.3,153.1 210.7,154.3 212.0,155.6C213.3,156.8 214.7,158.1 216.0,159.4C217.3,160.6 218.7,161.9 220.0,163.2C221.3,164.5 222.7,165.8 224.0,167.0C225.3,168.3 226.7,169.6 228.0,170.8C229.3,172.1 230.7,173.3 232.0,174.5C233.3,175.7 234.7,176.8 236.0,178.0C237.3,179.1 238.7,180.2 240.0,181.4C241.3,182.5 242.7,183.6 244.0,184.6C245.3,185.7 246.7,186.8 248.0,187.9C249.3,189.0 250.7,190.1 252.0,191.2C253.3,192.3 254.7,193.4 256.0,194.5C257.3,195.6 258.7,196.7 260.0,197.8C261.3,199.0 262.7,200.1 264.0,201.2C265.3,202.3 266.7,203.5 268.0,204.6C269.3,205.7 270.7,206.9 272.0,208.0C273.3,209.2 274.7,210.3 276.0,211.5C277.3,212.6 278.7,213.8 280.0,215.0C281.3,216.1 282.7,217.3 284.0,218.4C285.3,219.6 286.7,220.7 288.0,221.8C289.3,223.0 290.7,224.1 292.0,225.2C293.3,226.3 294.7,227.3 296.0,228.4C297.3,229.5 298.7,230.6 300.0,231.7C301.3,232.8 302.7,233.9 304.0,235.0C305.3,236.2 306.7,237.4 308.0,238.6C309.3,239.8 310.7,241.1 312.0,242.4C313.3,243.6 314.7,245.0 316.0,246.3C317.3,247.6 318.7,248.9 320.0,250.1C321.3,251.4 322.7,252.7 324.0,253.9C325.3,255.2 326.7,256.4 328.0,257.6C329.3,258.8 330.7,259.9 332.0,261.0C333.3,262.1 334.7,263.2 336.0,264.2C337.3,265.3 338.7,266.3 340.0,267.3C341.3,268.3 342.7,269.2 344.0,270.2C345.3,271.1 346.7,272.0 348.0,272.9C349.3,273.8 350.7,274.7 352.0,275.5C353.3,276.4 354.7,277.2 356.0,278.0C357.3,278.9 358.7,279.7 360.0,280.5C361.3,281.3 362.7,282.1 364.0,282.9C365.3,283.7 366.7,284.5 368.0,285.2C369.3,286.0 370.7,286.7 372.0,287.5C373.3,288.2 374.7,288.9 376.0,289.6C377.3,290.3 378.7,290.9 380.0,291.5C381.3,292.2 382.7,292.8 384.0,293.4C385.3,293.9 386.7,294.5 388.0,295.0C389.3,295.6 390.7,296.1 392.0,296.6C393.3,297.1 394.7,297.6 396.0,298.1C397.3,298.6 398.7,299.0 400.0,299.5C401.3,300.0 402.7,300.5 404.0,300.9C405.3,301.4 406.7,301.9 408.0,302.3C409.3,302.8 410.7,303.3 412.0,303.7C413.3,304.2 414.7,304.6 416.0,305.1C417.3,305.5 418.7,306.0 420.0,306.4C421.3,306.8 422.7,307.2 424.0,307.6C425.3,308.0 426.7,308.4 428.0,308.7C429.3,309.1 430.7,309.5 432.0,309.8C433.3,310.2 434.7,310.6 436.0,311.0C437.3,311.3 438.7,311.7 440.0,312.1C441.3,312.5 442.7,312.8 444.0,313.2C445.3,313.6 446.7,314.0 448.0,314.4C449.3,314.8 450.7,315.2 452.0,315.6C453.3,316.0 454.7,316.4 456.0,316.9C457.3,317.3 458.7,317.7 460.0,318.1C461.3,318.6 462.7,319.0 464.0,319.5C465.3,319.9 466.7,320.4 468.0,320.8C469.3,321.3 470.7,321.7 472.0,322.2C473.3,322.6 474.7,323.1 476.0,323.5C477.3,323.9 478.7,324.3 480.0,324.7C481.3,325.1 482.7,325.5 484.0,325.9C485.3,326.2 486.7,326.6 488.0,326.9C489.3,327.3 490.7,327.6 492.0,327.9C493.3,328.2 494.7,328.5 496.0,328.8C497.3,329.1 498.7,329.4 500.0,329.6C501.3,329.8 502.7,330.0 504.0,330.2C505.3,330.4 506.7,330.6 508.0,330.7C509.3,330.9 510.7,331.0 512.0,331.2C513.3,331.3 514.7,331.4 516.0,331.6C517.3,331.7 518.7,331.8 520.0,331.9C521.3,332.1 522.7,332.2 524.0,332.3C525.3,332.4 526.7,332.5 528.0,332.6C529.3,332.8 530.7,332.9 532.0,333.0C533.3,333.1 534.7,333.3 536.0,333.4C537.3,333.6 538.7,333.7 540.0,333.9C541.3,334.1 542.7,334.3 544.0,334.5C545.3,334.8 546.7,335.0 548.0,335.3C549.3,335.5 550.7,335.8 552.0,336.1C553.3,336.3 554.7,336.6 556.0,336.9C557.3,337.3 558.7,337.6 560.0,337.9C561.3,338.3 562.7,338.6 564.0,339.0C565.3,339.4 566.7,339.8 568.0,340.2C569.3,340.6 570.7,341.1 572.0,341.5C573.3,341.9 574.7,342.4 576.0,342.8C577.3,343.3 578.7,343.7 580.0,344.2C581.3,344.7 582.7,345.2 584.0,345.7C585.3,346.2 586.7,346.7 588.0,347.2C589.3,347.7 590.7,348.3 592.0,348.8C593.3,349.3 594.7,349.9 596.0,350.4C597.3,350.9 598.7,351.4 600.0,351.9C601.3,352.4 602.7,353.0 604.0,353.5C605.3,354.0 606.7,354.4 608.0,354.9C609.3,355.4 610.7,355.9 612.0,356.3C613.3,356.7 614.7,357.1 616.0,357.5C617.3,357.9 618.7,358.3 620.0,358.6C621.3,358.9 622.7,359.2 624.0,359.5C625.3,359.8 626.7,360.0 628.0,360.2C629.3,360.5 630.7,360.7 632.0,360.8C633.3,361.0 634.7,361.2 636.0,361.3C637.3,361.5 638.7,361.6 640.0,361.7C641.3,361.8 642.7,362.0 644.0,362.1C645.3,362.2 646.7,362.4 648.0,362.5C649.3,362.7 650.7,362.9 652.0,363.1C653.3,363.3 654.7,363.5 656.0,363.7C657.3,363.9 658.7,364.2 660.0,364.4C661.3,364.6 662.7,364.9 664.0,365.1C665.3,365.4 666.7,365.6 668.0,365.8C669.3,366.1 670.7,366.3 672.0,366.5C673.3,366.7 674.7,366.9 676.0,367.1C677.3,367.4 678.7,367.6 680.0,367.8C681.3,368.0 682.7,368.2 684.0,368.5C685.3,368.7 686.7,369.0 688.0,369.3C689.3,369.5 690.7,369.8 692.0,370.1C693.3,370.4 694.7,370.7 696.0,371.0C697.3,371.4 698.7,371.7 700.0,372.0C701.3,372.3 702.7,372.7 704.0,373.0C705.3,373.3 706.7,373.7 708.0,374.0C709.3,374.3 710.7,374.7 712.0,375.0C713.3,375.4 714.7,375.7 716.0,376.0C717.3,376.4 718.7,376.7 720.0,377.1C721.3,377.4 722.7,377.8 724.0,378.1C725.3,378.5 726.7,378.8 728.0,379.2C729.3,379.6 730.7,380.0 732.0,380.3C733.3,380.7 734.7,381.1 736.0,381.5C737.3,381.9 738.7,382.3 740.0,382.7C741.3,383.2 742.7,383.6 744.0,384.0C745.3,384.4 746.7,384.8 748.0,385.2C749.3,385.7 750.7,386.1 752.0,386.5C753.3,386.9 754.7,387.3 756.0,387.7C757.3,388.1 758.7,388.6 760.0,389.0C761.3,389.4 762.7,389.8 764.0,390.2C765.3,390.6 766.7,391.0 768.0,391.4C769.3,391.8 770.7,392.2 772.0,392.6C773.3,393.0 774.7,393.4 776.0,393.7C777.3,394.1 778.7,394.5 780.0,394.9C781.3,395.2 782.7,395.6 784.0,395.9C785.3,396.3 786.7,396.6 788.0,397.0C789.3,397.3 790.7,397.6 792.0,398.0C793.3,398.3 794.7,398.6 796.0,398.9C797.3,399.2 798.7,399.5 800.0,399.9C801.3,400.2 802.7,400.5 804.0,400.8C805.3,401.2 806.7,401.5 808.0,401.9C809.3,402.3 810.7,402.7 812.0,403.2C813.3,403.6 814.7,404.1 816.0,404.5C817.3,405.0 818.7,405.5 820.0,406.0C821.3,406.5 822.7,407.1 824.0,407.6C825.3,408.1 826.7,408.6 828.0,409.1C829.3,409.6 830.7,410.2 832.0,410.7C833.3,411.2 834.7,411.7 836.0,412.2C837.3,412.7 838.7,413.1 840.0,413.6C841.3,414.1 842.7,414.6 844.0,415.1C845.3,415.5 846.7,416.0 848.0,416.5C849.3,416.9 850.7,417.4 852.0,417.8C853.3,418.3 854.7,418.7 856.0,419.1C857.3,419.6 858.7,420.0 860.0,420.4C861.3,420.8 862.7,421.2 864.0,421.6C865.3,422.0 866.7,422.4 868.0,422.8C869.3,423.2 870.7,423.5 872.0,423.9C873.3,424.2 874.7,424.5 876.0,424.8C877.3,425.2 878.7,425.5 880.0,425.8C881.3,426.0 882.7,426.3 884.0,426.6C885.3,426.9 886.7,427.1 888.0,427.4C889.3,427.6 890.7,427.9 892.0,428.1C893.3,428.3 894.7,428.5 896.0,428.7C897.3,428.9 898.7,429.1 900.0,429.3C901.3,429.4 902.7,429.6 904.0,429.7C905.3,429.8 906.7,429.9 908.0,430.0C909.3,430.1 910.7,430.2 912.0,430.2C913.3,430.3 914.7,430.3 916.0,430.3C917.3,430.4 918.7,430.4 920.0,430.4C921.3,430.4 922.7,430.4 924.0,430.4C925.3,430.4 926.7,430.4 928.0,430.5C929.3,430.5 930.7,430.5 932.0,430.5C933.3,430.5 934.7,430.6 936.0,430.6C937.3,430.6 938.7,430.6 940.0,430.7C941.3,430.7 942.7,430.7 944.0,430.7C945.3,430.8 946.7,430.8 948.0,430.9C949.3,430.9 950.7,430.9 952.0,431.0C953.3,431.0 954.7,431.1 956.0,431.2C957.3,431.2 958.7,431.3 960.0,431.4C961.3,431.5 962.7,431.6 964.0,431.7C965.3,431.8 966.7,431.9 968.0,432.0C969.3,432.1 970.7,432.2 972.0,432.3C973.3,432.4 974.7,432.5 976.0,432.6C977.3,432.7 978.7,432.8 980.0,432.9C981.3,433.0 982.7,433.1 984.0,433.2C985.3,433.2 986.7,433.3 988.0,433.4C989.3,433.5 990.7,433.5 992.0,433.6C993.3,433.7 994.7,433.7 996.0,433.8C997.3,433.9 998.7,433.9 1000.0,434.0C1001.3,434.0 1002.7,434.1 1004.0,434.1C1005.3,434.2 1006.7,434.3 1008.0,434.3C1009.3,434.3 1010.7,434.4 1012.0,434.4C1013.3,434.5 1014.7,434.5 1016.0,434.5C1017.3,434.5 1018.7,434.5 1020.0,434.4C1021.3,434.4 1022.7,434.4 1024.0,434.3C1025.3,434.2 1026.7,434.1 1028.0,434.0C1029.3,433.9 1030.7,433.8 1032.0,433.7C1033.3,433.6 1034.7,433.4 1036.0,433.3C1037.3,433.1 1038.7,433.0 1040.0,432.8C1041.3,432.6 1042.7,432.5 1044.0,432.3C1045.3,432.1 1046.7,431.9 1048.0,431.7C1049.3,431.5 1050.7,431.3 1052.0,431.2C1053.3,431.0 1054.7,430.8 1056.0,430.7C1057.3,430.5 1058.7,430.4 1060.0,430.3C1061.3,430.2 1062.7,430.1 1064.0,430.0C1065.3,429.9 1066.7,429.9 1068.0,429.8C1069.3,429.8 1070.7,429.7 1072.0,429.7C1073.3,429.6 1074.7,429.6 1076.0,429.6C1077.3,429.6 1078.7,429.5 1080.0,429.5C1081.3,429.5 1082.7,429.5 1084.0,429.5C1085.3,429.6 1086.7,429.6 1088.0,429.6C1089.3,429.7 1090.7,429.8 1092.0,429.9C1093.3,430.0 1094.7,430.1 1096.0,430.3C1097.3,430.4 1098.7,430.6 1100.0,430.8C1101.3,431.0 1102.7,431.2 1104.0,431.4C1105.3,431.6 1106.7,431.8 1108.0,432.0C1109.3,432.2 1110.7,432.5 1112.0,432.7C1113.3,432.9 1114.7,433.1 1116.0,433.4C1117.3,433.6 1118.7,433.8 1120.0,434.1C1121.3,434.3 1122.7,434.6 1124.0,434.8C1125.3,435.1 1126.7,435.3 1128.0,435.6C1129.3,435.9 1130.7,436.1 1132.0,436.4C1133.3,436.6 1134.7,436.9 1136.0,437.1C1137.3,437.4 1138.7,437.6 1140.0,437.8C1141.3,438.0 1142.7,438.2 1144.0,438.4C1145.3,438.6 1146.7,438.8 1148.0,439.0C1149.3,439.1 1150.7,439.3 1152.0,439.5C1153.3,439.6 1154.7,439.8 1156.0,439.9C1157.3,440.1 1158.7,440.2 1160.0,440.3C1161.3,440.5 1162.7,440.6 1164.0,440.7C1165.3,440.8 1166.7,440.9 1168.0,440.9C1169.3,441.0 1170.7,441.0 1172.0,441.0C1173.3,441.0 1174.7,441.0 1176.0,441.0C1177.3,441.0 1178.7,440.9 1180.0,440.9C1181.3,440.8 1182.7,440.8 1184.0,440.7C1185.3,440.7 1186.7,440.6 1188.0,440.6C1189.3,440.5 1190.7,440.5 1192.0,440.4C1193.3,440.4 1194.7,440.3 1196.0,440.3C1197.3,440.3 1198.7,440.2 1200.0,440.2C1201.3,440.2 1202.7,440.1 1204.0,440.1C1205.3,440.1 1206.7,440.0 1208.0,440.0C1209.3,440.0 1210.7,439.9 1212.0,439.9C1213.3,439.9 1214.7,439.8 1216.0,439.8C1217.3,439.7 1218.7,439.7 1220.0,439.7C1221.3,439.6 1222.7,439.6 1224.0,439.5C1225.3,439.5 1226.7,439.4 1228.0,439.4C1229.3,439.4 1230.7,439.3 1232.0,439.3C1233.3,439.2 1234.7,439.2 1236.0,439.2C1237.3,439.1 1238.7,439.1 1240.0,439.1C1241.3,439.0 1242.7,439.0 1244.0,439.0C1245.3,438.9 1246.7,438.9 1248.0,438.9C1249.3,438.9 1250.7,438.9 1252.0,438.8C1253.3,438.8 1254.7,438.8 1256.0,438.8C1257.3,438.8 1258.7,438.7 1260.0,438.7C1261.3,438.7 1262.7,438.6 1264.0,438.6C1265.3,438.6 1266.7,438.5 1268.0,438.4C1269.3,438.4 1270.7,438.3 1272.0,438.2C1273.3,438.0 1274.7,437.9 1276.0,437.8C1277.3,437.6 1278.7,437.4 1280.0,437.2C1281.3,437.0 1282.7,436.7 1284.0,436.5C1285.3,436.2 1286.7,435.9 1288.0,435.5C1289.3,435.2 1290.7,434.8 1292.0,434.4C1293.3,434.0 1294.7,433.6 1296.0,433.2C1297.3,432.8 1298.7,432.4 1300.0,431.9C1301.3,431.5 1302.7,431.1 1304.0,430.6C1305.3,430.2 1306.7,429.8 1308.0,429.3C1309.3,428.9 1310.7,428.4 1312.0,428.0C1313.3,427.5 1314.7,427.1 1316.0,426.6C1317.3,426.2 1318.7,425.8 1320.0,425.4C1321.3,425.0 1322.7,424.6 1324.0,424.3C1325.3,424.0 1326.7,423.7 1328.0,423.4C1329.3,423.2 1330.7,423.0 1332.0,422.8C1333.3,422.7 1334.7,422.5 1336.0,422.4C1337.3,422.3 1338.7,422.2 1340.0,422.1C1341.3,422.0 1342.7,421.9 1344.0,421.8C1345.3,421.7 1346.7,421.7 1348.0,421.6C1349.3,421.5 1350.7,421.4 1352.0,421.4C1353.3,421.3 1354.7,421.2 1356.0,421.2C1357.3,421.1 1358.7,421.0 1360.0,421.0C1361.3,420.9 1362.7,420.9 1364.0,420.8C1365.3,420.7 1366.7,420.7 1368.0,420.6C1369.3,420.5 1370.7,420.4 1372.0,420.3C1373.3,420.3 1374.7,420.1 1376.0,420.0C1377.3,419.9 1378.7,419.8 1380.0,419.6C1381.3,419.4 1382.7,419.3 1384.0,419.1C1385.3,418.9 1386.7,418.7 1388.0,418.5C1389.3,418.3 1390.7,418.1 1392.0,417.9C1393.3,417.7 1394.7,417.5 1396.0,417.3C1397.3,417.1 1398.7,416.9 1400.0,416.6C1401.3,416.4 1402.7,416.2 1404.0,415.9C1405.3,415.7 1406.7,415.4 1408.0,415.2C1409.3,415.0 1410.7,414.7 1412.0,414.5C1413.3,414.2 1414.7,414.0 1416.0,413.7C1417.3,413.5 1418.7,413.2 1420.0,413.0C1421.3,412.8 1422.7,412.5 1424.0,412.3C1425.3,412.0 1426.7,411.8 1428.0,411.5C1429.3,411.3 1430.7,411.0 1432.0,410.8C1433.3,410.6 1434.7,410.3 1436.0,410.1C1437.3,409.8 1438.7,409.6 1440.0,409.4C1441.3,409.1 1442.7,408.9 1444.0,408.7C1445.3,408.5 1446.7,408.2 1448.0,408.0C1449.3,407.8 1450.7,407.6 1452.0,407.4C1453.3,407.2 1454.7,407.0 1456.0,406.8C1457.3,406.5 1458.7,406.3 1460.0,406.1C1461.3,405.9 1462.7,405.7 1464.0,405.5C1465.3,405.3 1466.7,405.1 1468.0,404.9C1469.3,404.6 1470.7,404.4 1472.0,404.2C1473.3,404.0 1474.7,403.7 1476.0,403.5C1477.3,403.3 1478.7,403.0 1480.0,402.8C1481.3,402.6 1482.7,402.3 1484.0,402.1C1485.3,401.9 1486.7,401.6 1488.0,401.4C1489.3,401.2 1490.7,401.0 1492.0,400.8C1493.3,400.5 1494.7,400.3 1496.0,400.1C1497.3,399.9 1498.7,399.7 1500.0,399.5C1501.3,399.3 1502.7,399.1 1504.0,398.9C1505.3,398.6 1506.7,398.4 1508.0,398.2C1509.3,397.9 1510.7,397.7 1512.0,397.4C1513.3,397.2 1514.7,396.9 1516.0,396.6C1517.3,396.4 1518.7,396.1 1520.0,395.8C1521.3,395.5 1522.7,395.1 1524.0,394.8C1525.3,394.5 1526.7,394.1 1528.0,393.7C1529.3,393.3 1530.7,392.9 1532.0,392.5C1533.3,392.1 1534.7,391.7 1536.0,391.3C1537.3,390.8 1538.7,390.4 1540.0,389.9C1541.3,389.5 1542.7,389.0 1544.0,388.6C1545.3,388.1 1546.7,387.7 1548.0,387.2C1549.3,386.7 1550.7,386.3 1552.0,385.8C1553.3,385.4 1554.7,384.9 1556.0,384.5C1557.3,384.1 1558.7,383.7 1560.0,383.3C1561.3,382.9 1562.7,382.5 1564.0,382.1C1565.3,381.8 1566.7,381.4 1568.0,381.1C1569.3,380.8 1570.7,380.4 1572.0,380.1C1573.3,379.8 1574.7,379.6 1576.0,379.3C1577.3,379.0 1578.7,378.8 1580.0,378.6C1581.3,378.3 1582.7,378.1 1584.0,377.9C1585.3,377.7 1586.7,377.6 1588.0,377.4C1589.3,377.2 1590.9,377.0 1592.0,376.9C1593.1,376.7 1594.2,376.5 1594.6,376.4" stroke="#2362b2" stroke-width="1.05" fill="none" stroke-linejoin="round"/>
<path d="M0.0,96.0C0.7,96.0 2.7,96.1 4.0,96.2C5.3,96.2 6.7,96.3 8.0,96.3C9.3,96.4 10.7,96.4 12.0,96.5C13.3,96.5 14.7,96.6 16.0,96.6C17.3,96.7 18.7,96.7 20.0,96.8C21.3,96.8 22.7,96.9 24.0,96.9C25.3,97.0 26.7,97.0 28.0,97.1C29.3,97.1 30.7,97.2 32.0,97.2C33.3,97.3 34.7,97.3 36.0,97.4C37.3,97.4 38.7,97.5 40.0,97.5C41.3,97.5 42.7,97.6 44.0,97.6C45.3,97.7 46.7,97.7 48.0,97.7C49.3,97.8 50.7,97.8 52.0,97.9C53.3,97.9 54.7,97.9 56.0,98.0C57.3,98.0 58.7,98.0 60.0,98.1C61.3,98.1 62.7,98.2 64.0,98.2C65.3,98.2 66.7,98.3 68.0,98.3C69.3,98.3 70.7,98.4 72.0,98.4C73.3,98.4 74.7,98.5 76.0,98.5C77.3,98.5 78.7,98.5 80.0,98.6C81.3,98.6 82.7,98.6 84.0,98.7C85.3,98.7 86.7,98.7 88.0,98.7C89.3,98.8 90.7,98.8 92.0,98.8C93.3,98.8 94.7,98.9 96.0,98.9C97.3,98.9 98.7,98.9 100.0,99.0C101.3,99.0 102.7,99.0 104.0,99.0C105.3,99.0 106.7,99.0 108.0,99.1C109.3,99.1 110.7,99.1 112.0,99.1C113.3,99.1 114.7,99.1 116.0,99.1C117.3,99.2 118.7,99.2 120.0,99.2C121.3,99.2 122.7,99.2 124.0,99.2C125.3,99.2 126.7,99.3 128.0,99.3C129.3,99.3 130.7,99.3 132.0,99.4C133.3,99.4 134.7,99.4 136.0,99.4C137.3,99.5 138.7,99.5 140.0,99.5C141.3,99.6 142.7,99.6 144.0,99.6C145.3,99.7 146.7,99.7 148.0,99.8C149.3,99.8 150.7,99.9 152.0,99.9C153.3,100.0 154.7,100.0 156.0,100.1C157.3,100.1 158.7,100.2 160.0,100.3C161.3,100.3 162.7,100.4 164.0,100.5C165.3,100.6 166.7,100.7 168.0,100.7C169.3,100.8 170.7,100.9 172.0,101.0C173.3,101.1 174.7,101.2 176.0,101.3C177.3,101.4 178.7,101.5 180.0,101.6C181.3,101.8 182.7,101.9 184.0,102.0C185.3,102.1 186.7,102.3 188.0,102.4C189.3,102.6 190.7,102.7 192.0,102.9C193.3,103.0 194.7,103.2 196.0,103.4C197.3,103.5 198.7,103.7 200.0,103.9C201.3,104.0 202.7,104.2 204.0,104.4C205.3,104.5 206.7,104.7 208.0,104.9C209.3,105.0 210.7,105.2 212.0,105.4C213.3,105.5 214.7,105.7 216.0,105.9C217.3,106.0 218.7,106.2 220.0,106.4C221.3,106.5 222.7,106.7 224.0,106.8C225.3,107.0 226.7,107.2 228.0,107.3C229.3,107.5 230.7,107.7 232.0,107.8C233.3,108.0 234.7,108.1 236.0,108.3C237.3,108.5 238.7,108.6 240.0,108.8C241.3,108.9 242.7,109.1 244.0,109.3C245.3,109.4 246.7,109.6 248.0,109.8C249.3,109.9 250.7,110.1 252.0,110.2C253.3,110.4 254.7,110.6 256.0,110.7C257.3,110.9 258.7,111.1 260.0,111.2C261.3,111.4 262.7,111.5 264.0,111.7C265.3,111.9 266.7,112.0 268.0,112.2C269.3,112.3 270.7,112.5 272.0,112.7C273.3,112.8 274.7,113.0 276.0,113.1C277.3,113.3 278.7,113.5 280.0,113.6C281.3,113.8 282.7,113.9 284.0,114.1C285.3,114.3 286.7,114.4 288.0,114.6C289.3,114.7 290.7,114.9 292.0,115.1C293.3,115.2 294.7,115.4 296.0,115.5C297.3,115.7 298.7,115.8 300.0,116.0C301.3,116.2 302.7,116.3 304.0,116.5C305.3,116.6 306.7,116.8 308.0,117.0C309.3,117.1 310.7,117.3 312.0,117.5C313.3,117.7 314.7,117.8 316.0,118.0C317.3,118.2 318.7,118.4 320.0,118.6C321.3,118.8 322.7,119.0 324.0,119.2C325.3,119.4 326.7,119.6 328.0,119.8C329.3,120.0 330.7,120.2 332.0,120.4C333.3,120.6 334.7,120.8 336.0,121.0C337.3,121.3 338.7,121.5 340.0,121.7C341.3,121.9 342.7,122.1 344.0,122.3C345.3,122.5 346.7,122.7 348.0,122.9C349.3,123.1 350.7,123.3 352.0,123.5C353.3,123.7 354.7,123.9 356.0,124.1C357.3,124.2 358.7,124.4 360.0,124.6C361.3,124.8 362.7,125.0 364.0,125.2C365.3,125.3 366.7,125.5 368.0,125.7C369.3,125.9 370.7,126.0 372.0,126.2C373.3,126.4 374.7,126.5 376.0,126.7C377.3,126.9 378.7,127.0 380.0,127.2C381.3,127.3 382.7,127.5 384.0,127.6C385.3,127.7 386.7,127.9 388.0,128.0C389.3,128.1 390.7,128.2 392.0,128.3C393.3,128.5 394.7,128.6 396.0,128.7C397.3,128.8 398.7,128.9 400.0,129.0C401.3,129.1 402.7,129.2 404.0,129.3C405.3,129.4 406.7,129.5 408.0,129.6C409.3,129.7 410.7,129.8 412.0,129.9C413.3,130.1 414.7,130.2 416.0,130.3C417.3,130.4 418.7,130.5 420.0,130.6C421.3,130.7 422.7,130.9 424.0,131.0C425.3,131.1 426.7,131.2 428.0,131.3C429.3,131.5 430.7,131.6 432.0,131.7C433.3,131.8 434.7,131.9 436.0,132.1C437.3,132.2 438.7,132.3 440.0,132.4C441.3,132.6 442.7,132.7 444.0,132.8C445.3,132.9 446.7,133.1 448.0,133.2C449.3,133.3 450.7,133.5 452.0,133.6C453.3,133.7 454.7,133.9 456.0,134.0C457.3,134.2 458.7,134.3 460.0,134.5C461.3,134.6 462.7,134.8 464.0,135.0C465.3,135.1 466.7,135.3 468.0,135.5C469.3,135.7 470.7,135.8 472.0,136.0C473.3,136.2 474.7,136.4 476.0,136.6C477.3,136.8 478.7,137.0 480.0,137.2C481.3,137.3 482.7,137.5 484.0,137.7C485.3,137.9 486.7,138.1 488.0,138.3C489.3,138.5 490.7,138.7 492.0,138.8C493.3,139.0 494.7,139.2 496.0,139.4C497.3,139.6 498.7,139.8 500.0,139.9C501.3,140.1 502.7,140.3 504.0,140.5C505.3,140.6 506.7,140.8 508.0,141.0C509.3,141.2 510.7,141.3 512.0,141.5C513.3,141.7 514.7,141.8 516.0,142.0C517.3,142.2 518.7,142.3 520.0,142.5C521.3,142.7 522.7,142.8 524.0,143.0C525.3,143.2 526.7,143.3 528.0,143.5C529.3,143.7 530.7,143.8 532.0,144.0C533.3,144.2 534.7,144.4 536.0,144.5C537.3,144.7 538.7,144.9 540.0,145.1C541.3,145.3 542.7,145.5 544.0,145.7C545.3,145.9 546.7,146.1 548.0,146.3C549.3,146.5 550.7,146.7 552.0,146.9C553.3,147.2 554.7,147.4 556.0,147.7C557.3,147.9 558.7,148.2 560.0,148.5C561.3,148.8 562.7,149.1 564.0,149.4C565.3,149.7 566.7,150.1 568.0,150.5C569.3,150.8 570.7,151.2 572.0,151.6C573.3,152.0 574.7,152.4 576.0,152.8C577.3,153.2 578.7,153.6 580.0,154.1C581.3,154.5 582.7,155.0 584.0,155.4C585.3,155.9 586.7,156.4 588.0,156.9C589.3,157.3 590.7,157.8 592.0,158.3C593.3,158.8 594.7,159.4 596.0,159.9C597.3,160.4 598.7,161.0 600.0,161.5C601.3,162.0 602.7,162.6 604.0,163.2C605.3,163.7 606.7,164.3 608.0,164.8C609.3,165.4 610.7,166.0 612.0,166.5C613.3,167.1 614.7,167.7 616.0,168.2C617.3,168.8 618.7,169.3 620.0,169.9C621.3,170.4 622.7,170.9 624.0,171.4C625.3,171.9 626.7,172.4 628.0,172.9C629.3,173.4 630.7,173.8 632.0,174.3C633.3,174.8 634.7,175.2 636.0,175.7C637.3,176.1 638.7,176.6 640.0,177.0C641.3,177.5 642.7,177.9 644.0,178.4C645.3,178.9 646.7,179.3 648.0,179.8C649.3,180.3 650.7,180.8 652.0,181.3C653.3,181.8 654.7,182.3 656.0,182.8C657.3,183.4 658.7,183.9 660.0,184.5C661.3,185.0 662.7,185.6 664.0,186.1C665.3,186.7 666.7,187.2 668.0,187.8C669.3,188.4 670.7,188.9 672.0,189.5C673.3,190.0 674.7,190.5 676.0,191.0C677.3,191.6 678.7,192.1 680.0,192.6C681.3,193.1 682.7,193.6 684.0,194.1C685.3,194.6 686.7,195.1 688.0,195.6C689.3,196.1 690.7,196.6 692.0,197.0C693.3,197.5 694.7,198.0 696.0,198.5C697.3,199.0 698.7,199.5 700.0,200.0C701.3,200.5 702.7,201.0 704.0,201.5C705.3,202.0 706.7,202.5 708.0,203.0C709.3,203.5 710.7,204.0 712.0,204.5C713.3,205.0 714.7,205.5 716.0,206.0C717.3,206.5 718.7,207.0 720.0,207.5C721.3,208.1 722.7,208.6 724.0,209.1C725.3,209.6 726.7,210.1 728.0,210.7C729.3,211.2 730.7,211.7 732.0,212.3C733.3,212.8 734.7,213.4 736.0,214.0C737.3,214.5 738.7,215.1 740.0,215.6C741.3,216.2 742.7,216.8 744.0,217.3C745.3,217.9 746.7,218.5 748.0,219.0C749.3,219.6 750.7,220.1 752.0,220.7C753.3,221.3 754.7,221.8 756.0,222.4C757.3,222.9 758.7,223.4 760.0,224.0C761.3,224.5 762.7,225.1 764.0,225.6C765.3,226.1 766.7,226.7 768.0,227.2C769.3,227.8 770.7,228.3 772.0,228.9C773.3,229.4 774.7,229.9 776.0,230.5C777.3,231.0 778.7,231.6 780.0,232.1C781.3,232.7 782.7,233.2 784.0,233.7C785.3,234.3 786.7,234.8 788.0,235.3C789.3,235.9 790.7,236.4 792.0,236.9C793.3,237.4 794.7,237.9 796.0,238.5C797.3,239.0 798.7,239.5 800.0,240.0C801.3,240.5 802.7,241.1 804.0,241.6C805.3,242.1 806.7,242.6 808.0,243.2C809.3,243.7 810.7,244.2 812.0,244.8C813.3,245.3 814.7,245.9 816.0,246.5C817.3,247.0 818.7,247.6 820.0,248.2C821.3,248.7 822.7,249.3 824.0,249.9C825.3,250.5 826.7,251.0 828.0,251.6C829.3,252.2 830.7,252.8 832.0,253.4C833.3,254.0 834.7,254.5 836.0,255.1C837.3,255.7 838.7,256.3 840.0,256.9C841.3,257.5 842.7,258.0 844.0,258.6C845.3,259.2 846.7,259.8 848.0,260.4C849.3,261.0 850.7,261.5 852.0,262.1C853.3,262.7 854.7,263.3 856.0,263.9C857.3,264.5 858.7,265.0 860.0,265.6C861.3,266.2 862.7,266.8 864.0,267.4C865.3,268.0 866.7,268.5 868.0,269.1C869.3,269.7 870.7,270.3 872.0,270.9C873.3,271.5 874.7,272.1 876.0,272.6C877.3,273.2 878.7,273.8 880.0,274.4C881.3,275.0 882.7,275.6 884.0,276.2C885.3,276.8 886.7,277.4 888.0,278.0C889.3,278.7 890.7,279.3 892.0,279.9C893.3,280.6 894.7,281.2 896.0,281.8C897.3,282.5 898.7,283.1 900.0,283.8C901.3,284.4 902.7,285.1 904.0,285.8C905.3,286.4 906.7,287.1 908.0,287.8C909.3,288.4 910.7,289.1 912.0,289.7C913.3,290.4 914.7,291.1 916.0,291.7C917.3,292.4 918.7,293.0 920.0,293.7C921.3,294.3 922.7,295.0 924.0,295.6C925.3,296.3 926.7,296.9 928.0,297.5C929.3,298.1 930.7,298.7 932.0,299.3C933.3,299.9 934.7,300.5 936.0,301.1C937.3,301.7 938.7,302.3 940.0,302.8C941.3,303.4 942.7,303.9 944.0,304.5C945.3,305.0 946.7,305.6 948.0,306.2C949.3,306.7 950.7,307.3 952.0,307.8C953.3,308.4 954.7,308.9 956.0,309.5C957.3,310.0 958.7,310.6 960.0,311.2C961.3,311.7 962.7,312.3 964.0,312.9C965.3,313.5 966.7,314.1 968.0,314.6C969.3,315.2 970.7,315.8 972.0,316.4C973.3,317.0 974.7,317.6 976.0,318.2C977.3,318.8 978.7,319.4 980.0,320.0C981.3,320.6 982.7,321.2 984.0,321.8C985.3,322.4 986.7,323.0 988.0,323.6C989.3,324.2 990.7,324.8 992.0,325.4C993.3,326.0 994.7,326.6 996.0,327.2C997.3,327.8 998.7,328.4 1000.0,329.0C1001.3,329.6 1002.7,330.2 1004.0,330.8C1005.3,331.4 1006.7,332.0 1008.0,332.6C1009.3,333.2 1010.7,333.8 1012.0,334.4C1013.3,335.0 1014.7,335.6 1016.0,336.2C1017.3,336.8 1018.7,337.4 1020.0,338.0C1021.3,338.6 1022.7,339.2 1024.0,339.8C1025.3,340.4 1026.7,341.0 1028.0,341.6C1029.3,342.2 1030.7,342.7 1032.0,343.3C1033.3,343.9 1034.7,344.5 1036.0,345.0C1037.3,345.6 1038.7,346.1 1040.0,346.6C1041.3,347.2 1042.7,347.7 1044.0,348.2C1045.3,348.7 1046.7,349.2 1048.0,349.7C1049.3,350.2 1050.7,350.6 1052.0,351.1C1053.3,351.5 1054.7,352.0 1056.0,352.4C1057.3,352.8 1058.7,353.2 1060.0,353.6C1061.3,354.0 1062.7,354.4 1064.0,354.8C1065.3,355.2 1066.7,355.6 1068.0,355.9C1069.3,356.3 1070.7,356.6 1072.0,357.0C1073.3,357.3 1074.7,357.6 1076.0,358.0C1077.3,358.3 1078.7,358.7 1080.0,359.0C1081.3,359.3 1082.7,359.7 1084.0,360.0C1085.3,360.3 1086.7,360.7 1088.0,361.0C1089.3,361.3 1090.7,361.7 1092.0,362.0C1093.3,362.3 1094.7,362.7 1096.0,363.0C1097.3,363.3 1098.7,363.7 1100.0,364.0C1101.3,364.3 1102.7,364.7 1104.0,365.0C1105.3,365.3 1106.7,365.7 1108.0,366.0C1109.3,366.3 1110.7,366.7 1112.0,367.0C1113.3,367.3 1114.7,367.7 1116.0,368.0C1117.3,368.3 1118.7,368.7 1120.0,369.0C1121.3,369.3 1122.7,369.7 1124.0,370.0C1125.3,370.3 1126.7,370.7 1128.0,371.0C1129.3,371.3 1130.7,371.6 1132.0,372.0C1133.3,372.3 1134.7,372.6 1136.0,372.9C1137.3,373.3 1138.7,373.6 1140.0,373.9C1141.3,374.2 1142.7,374.5 1144.0,374.8C1145.3,375.1 1146.7,375.4 1148.0,375.7C1149.3,376.0 1150.7,376.3 1152.0,376.6C1153.3,376.9 1154.7,377.2 1156.0,377.4C1157.3,377.7 1158.7,378.0 1160.0,378.3C1161.3,378.5 1162.7,378.8 1164.0,379.0C1165.3,379.3 1166.7,379.5 1168.0,379.8C1169.3,380.0 1170.7,380.3 1172.0,380.5C1173.3,380.7 1174.7,381.0 1176.0,381.2C1177.3,381.4 1178.7,381.6 1180.0,381.8C1181.3,382.0 1182.7,382.2 1184.0,382.4C1185.3,382.6 1186.7,382.8 1188.0,383.0C1189.3,383.1 1190.7,383.3 1192.0,383.5C1193.3,383.6 1194.7,383.8 1196.0,383.9C1197.3,384.1 1198.7,384.2 1200.0,384.3C1201.3,384.4 1202.7,384.5 1204.0,384.6C1205.3,384.8 1206.7,384.8 1208.0,384.9C1209.3,385.0 1210.7,385.1 1212.0,385.2C1213.3,385.2 1214.7,385.3 1216.0,385.4C1217.3,385.5 1218.7,385.5 1220.0,385.6C1221.3,385.6 1222.7,385.7 1224.0,385.8C1225.3,385.8 1226.7,385.9 1228.0,386.0C1229.3,386.0 1230.7,386.1 1232.0,386.1C1233.3,386.2 1234.7,386.3 1236.0,386.3C1237.3,386.4 1238.7,386.5 1240.0,386.5C1241.3,386.6 1242.7,386.7 1244.0,386.7C1245.3,386.8 1246.7,386.9 1248.0,387.0C1249.3,387.0 1250.7,387.1 1252.0,387.2C1253.3,387.2 1254.7,387.3 1256.0,387.4C1257.3,387.5 1258.7,387.5 1260.0,387.6C1261.3,387.7 1262.7,387.8 1264.0,387.8C1265.3,387.9 1266.7,388.0 1268.0,388.1C1269.3,388.2 1270.7,388.2 1272.0,388.3C1273.3,388.4 1274.7,388.4 1276.0,388.5C1277.3,388.6 1278.7,388.6 1280.0,388.7C1281.3,388.8 1282.7,388.8 1284.0,388.9C1285.3,389.0 1286.7,389.0 1288.0,389.1C1289.3,389.1 1290.7,389.2 1292.0,389.2C1293.3,389.3 1294.7,389.3 1296.0,389.4C1297.3,389.4 1298.7,389.5 1300.0,389.5C1301.3,389.6 1302.7,389.6 1304.0,389.7C1305.3,389.7 1306.7,389.8 1308.0,389.8C1309.3,389.9 1310.7,389.9 1312.0,390.0C1313.3,390.0 1314.7,390.1 1316.0,390.1C1317.3,390.2 1318.7,390.2 1320.0,390.3C1321.3,390.3 1322.7,390.4 1324.0,390.4C1325.3,390.5 1326.7,390.5 1328.0,390.6C1329.3,390.6 1330.7,390.7 1332.0,390.7C1333.3,390.8 1334.7,390.8 1336.0,390.9C1337.3,390.9 1338.7,391.0 1340.0,391.0C1341.3,391.1 1342.7,391.1 1344.0,391.2C1345.3,391.3 1346.7,391.3 1348.0,391.4C1349.3,391.4 1350.7,391.5 1352.0,391.6C1353.3,391.6 1354.7,391.7 1356.0,391.8C1357.3,391.8 1358.7,391.9 1360.0,391.9C1361.3,392.0 1362.7,392.1 1364.0,392.1C1365.3,392.2 1366.7,392.2 1368.0,392.3C1369.3,392.3 1370.7,392.4 1372.0,392.4C1373.3,392.5 1374.7,392.5 1376.0,392.6C1377.3,392.6 1378.7,392.7 1380.0,392.7C1381.3,392.7 1382.7,392.8 1384.0,392.8C1385.3,392.9 1386.7,392.9 1388.0,392.9C1389.3,393.0 1390.7,393.0 1392.0,393.0C1393.3,393.1 1394.7,393.1 1396.0,393.2C1397.3,393.2 1398.7,393.2 1400.0,393.3C1401.3,393.3 1402.7,393.4 1404.0,393.4C1405.3,393.5 1406.7,393.5 1408.0,393.6C1409.3,393.7 1410.7,393.7 1412.0,393.8C1413.3,393.8 1414.7,393.9 1416.0,394.0C1417.3,394.0 1418.7,394.1 1420.0,394.1C1421.3,394.2 1422.7,394.3 1424.0,394.3C1425.3,394.4 1426.7,394.5 1428.0,394.6C1429.3,394.6 1430.7,394.7 1432.0,394.8C1433.3,394.9 1434.7,394.9 1436.0,395.0C1437.3,395.1 1438.7,395.2 1440.0,395.3C1441.3,395.4 1442.7,395.5 1444.0,395.5C1445.3,395.6 1446.7,395.7 1448.0,395.8C1449.3,395.9 1450.7,396.0 1452.0,396.1C1453.3,396.2 1454.7,396.3 1456.0,396.4C1457.3,396.5 1458.7,396.5 1460.0,396.6C1461.3,396.7 1462.7,396.8 1464.0,396.9C1465.3,397.0 1466.7,397.1 1468.0,397.3C1469.3,397.4 1470.7,397.5 1472.0,397.6C1473.3,397.7 1474.7,397.8 1476.0,397.9C1477.3,398.0 1478.7,398.1 1480.0,398.2C1481.3,398.3 1482.7,398.4 1484.0,398.5C1485.3,398.6 1486.7,398.7 1488.0,398.8C1489.3,398.8 1490.7,398.9 1492.0,399.0C1493.3,399.1 1494.7,399.2 1496.0,399.3C1497.3,399.3 1498.7,399.4 1500.0,399.5C1501.3,399.6 1502.7,399.6 1504.0,399.7C1505.3,399.8 1506.7,399.8 1508.0,399.9C1509.3,400.0 1510.7,400.0 1512.0,400.1C1513.3,400.2 1514.7,400.2 1516.0,400.3C1517.3,400.4 1518.7,400.4 1520.0,400.5C1521.3,400.5 1522.7,400.6 1524.0,400.6C1525.3,400.7 1526.7,400.8 1528.0,400.8C1529.3,400.8 1530.7,400.9 1532.0,400.9C1533.3,401.0 1534.7,401.0 1536.0,401.0C1537.3,401.1 1538.7,401.1 1540.0,401.1C1541.3,401.1 1542.7,401.2 1544.0,401.2C1545.3,401.2 1546.7,401.2 1548.0,401.2C1549.3,401.3 1550.7,401.3 1552.0,401.3C1553.3,401.3 1554.7,401.3 1556.0,401.3C1557.3,401.3 1558.7,401.3 1560.0,401.4C1561.3,401.4 1562.7,401.4 1564.0,401.4C1565.3,401.4 1566.7,401.4 1568.0,401.4C1569.3,401.4 1570.7,401.4 1572.0,401.4C1573.3,401.4 1574.7,401.4 1576.0,401.4C1577.3,401.4 1578.7,401.4 1580.0,401.4C1581.3,401.4 1582.7,401.4 1584.0,401.4C1585.3,401.4 1586.7,401.4 1588.0,401.4C1589.3,401.4 1590.9,401.4 1592.0,401.4C1593.1,401.4 1594.2,401.4 1594.6,401.4" stroke="#ff22f0" stroke-width="1.2" fill="none" stroke-linejoin="round"/>
</g>
<path d="M0,402.5H1638" stroke="#2c4a7c" stroke-width="1.1" fill="none"/>
<text x="1644.8" y="45" font-size="10.6" fill="#5c5c5c">1.3700</text>
<text x="1644.8" y="94" font-size="10.6" fill="#5c5c5c">1.3600</text>
<text x="1644.8" y="142" font-size="10.6" fill="#5c5c5c">1.3500</text>
<text x="1644.8" y="191" font-size="10.6" fill="#5c5c5c">1.3400</text>
<text x="1644.8" y="240" font-size="10.6" fill="#5c5c5c">1.3300</text>
<text x="1644.8" y="288" font-size="10.6" fill="#5c5c5c">1.3200</text>
<text x="1644.8" y="337" font-size="10.6" fill="#5c5c5c">1.3100</text>
<text x="1644.8" y="385" font-size="10.6" fill="#5c5c5c">1.3000</text>
<text x="1644.8" y="434" font-size="10.6" fill="#5c5c5c">1.2900</text>
<text x="1644.8" y="483" font-size="10.6" fill="#5c5c5c">1.2800</text>
<text x="1644.8" y="531" font-size="10.6" fill="#5c5c5c">1.2700</text>
<text x="1644.8" y="580" font-size="10.6" fill="#5c5c5c">1.2600</text>
<text x="1644.8" y="629" font-size="10.6" fill="#5c5c5c">1.2500</text>
<text x="1644.8" y="677" font-size="10.6" fill="#5c5c5c">1.2400</text>
<path d="M1637,41.00h5M1637,89.63h5M1637,138.26h5M1637,186.89h5M1637,235.52h5M1637,284.15h5M1637,332.78h5M1637,381.41h5M1637,430.04h5M1637,478.67h5M1637,527.30h5M1637,575.93h5M1637,624.56h5M1637,673.19h5" stroke="#888" stroke-width="1" fill="none"/>
<path d="M1637.5,402.5l2.5,-3v-2.2a2,2 0 0 1 2,-2h44.2a2,2 0 0 1 2,2v10.4a2,2 0 0 1 -2,2h-44.2a2,2 0 0 1 -2,-2v-2.2z" fill="#2c4a7c"/>
<text x="1644" y="406.9" font-size="11" font-weight="bold" fill="#ffffff">1.29573</text>
<text x="0" y="703.4" font-size="10.6" fill="#5c5c5c">Jul</text>
<text x="28.3" y="703.4" font-size="10.6" fill="#5c5c5c" text-anchor="middle">6</text>
<text x="56.7" y="703.4" font-size="10.6" fill="#5c5c5c" text-anchor="middle">12</text>
<text x="85.0" y="703.4" font-size="10.6" fill="#5c5c5c" text-anchor="middle">18</text>
<text x="113.4" y="703.4" font-size="10.6" fill="#5c5c5c" text-anchor="middle">24</text>
<text x="155.9" y="703.4" font-size="10.6" fill="#5c5c5c" text-anchor="middle">Aug</text>
<text x="184.3" y="703.4" font-size="10.6" fill="#5c5c5c" text-anchor="middle">7</text>
<text x="212.6" y="703.4" font-size="10.6" fill="#5c5c5c" text-anchor="middle">13</text>
<text x="241.0" y="703.4" font-size="10.6" fill="#5c5c5c" text-anchor="middle">17</text>
<text x="269.3" y="703.4" font-size="10.6" fill="#5c5c5c" text-anchor="middle">23</text>
<text x="297.7" y="703.4" font-size="10.6" fill="#5c5c5c" text-anchor="middle">29</text>
<text x="318.9" y="703.4" font-size="10.6" fill="#5c5c5c" text-anchor="middle">Sep</text>
<text x="347.3" y="703.4" font-size="10.6" fill="#5c5c5c" text-anchor="middle">7</text>
<text x="375.6" y="703.4" font-size="10.6" fill="#5c5c5c" text-anchor="middle">13</text>
<text x="404.0" y="703.4" font-size="10.6" fill="#5c5c5c" text-anchor="middle">19</text>
<text x="432.3" y="703.4" font-size="10.6" fill="#5c5c5c" text-anchor="middle">25</text>
<text x="460.7" y="703.4" font-size="10.6" fill="#5c5c5c" text-anchor="middle">Oct</text>
<text x="489.0" y="703.4" font-size="10.6" fill="#5c5c5c" text-anchor="middle">5</text>
<text x="517.4" y="703.4" font-size="10.6" fill="#5c5c5c" text-anchor="middle">11</text>
<text x="545.7" y="703.4" font-size="10.6" fill="#5c5c5c" text-anchor="middle">17</text>
<text x="574.0" y="703.4" font-size="10.6" fill="#5c5c5c" text-anchor="middle">23</text>
<text x="602.4" y="703.4" font-size="10.6" fill="#5c5c5c" text-anchor="middle">29</text>
<text x="623.7" y="703.4" font-size="10.6" fill="#5c5c5c" text-anchor="middle">Nov</text>
<text x="652.0" y="703.4" font-size="10.6" fill="#5c5c5c" text-anchor="middle">7</text>
<text x="680.4" y="703.4" font-size="10.6" fill="#5c5c5c" text-anchor="middle">13</text>
<text x="708.7" y="703.4" font-size="10.6" fill="#5c5c5c" text-anchor="middle">19</text>
<text x="737.0" y="703.4" font-size="10.6" fill="#5c5c5c" text-anchor="middle">23</text>
<text x="779.6" y="703.4" font-size="10.6" fill="#5c5c5c" text-anchor="middle">Dec</text>
<text x="807.9" y="703.4" font-size="10.6" fill="#5c5c5c" text-anchor="middle">7</text>
<text x="836.3" y="703.4" font-size="10.6" fill="#5c5c5c" text-anchor="middle">13</text>
<text x="864.6" y="703.4" font-size="10.6" fill="#5c5c5c" text-anchor="middle">19</text>
<text x="893.0" y="703.4" font-size="10.6" fill="#5c5c5c" text-anchor="middle">25</text>
<text x="928.4" y="703.4" font-size="10.6" fill="#5c5c5c" text-anchor="middle">Jan</text>
<text x="956.7" y="703.4" font-size="10.6" fill="#5c5c5c" text-anchor="middle">7</text>
<text x="985.1" y="703.4" font-size="10.6" fill="#5c5c5c" text-anchor="middle">11</text>
<text x="1013.4" y="703.4" font-size="10.6" fill="#5c5c5c" text-anchor="middle">17</text>
<text x="1041.8" y="703.4" font-size="10.6" fill="#5c5c5c" text-anchor="middle">23</text>
<text x="1070.1" y="703.4" font-size="10.6" fill="#5c5c5c" text-anchor="middle">29</text>
<text x="1091.4" y="703.4" font-size="10.6" fill="#5c5c5c" text-anchor="middle">Feb</text>
<text x="1119.7" y="703.4" font-size="10.6" fill="#5c5c5c" text-anchor="middle">7</text>
<text x="1148.1" y="703.4" font-size="10.6" fill="#5c5c5c" text-anchor="middle">13</text>
<text x="1176.4" y="703.4" font-size="10.6" fill="#5c5c5c" text-anchor="middle">19</text>
<text x="1204.8" y="703.4" font-size="10.6" fill="#5c5c5c" text-anchor="middle">25</text>
<text x="1233.1" y="703.4" font-size="10.6" fill="#5c5c5c" text-anchor="middle">Mar</text>
<text x="1261.5" y="703.4" font-size="10.6" fill="#5c5c5c" text-anchor="middle">7</text>
<text x="1289.8" y="703.4" font-size="10.6" fill="#5c5c5c" text-anchor="middle">13</text>
<text x="1318.2" y="703.4" font-size="10.6" fill="#5c5c5c" text-anchor="middle">19</text>
<text x="1346.5" y="703.4" font-size="10.6" fill="#5c5c5c" text-anchor="middle">25</text>
<text x="1382.0" y="703.4" font-size="10.6" fill="#5c5c5c" text-anchor="middle">Apr</text>
<text x="1410.3" y="703.4" font-size="10.6" fill="#5c5c5c" text-anchor="middle">5</text>
<text x="1438.7" y="703.4" font-size="10.6" fill="#5c5c5c" text-anchor="middle">11</text>
<text x="1467.0" y="703.4" font-size="10.6" fill="#5c5c5c" text-anchor="middle">17</text>
<text x="1495.4" y="703.4" font-size="10.6" fill="#5c5c5c" text-anchor="middle">23</text>
<text x="1537.9" y="703.4" font-size="10.6" fill="#5c5c5c" text-anchor="middle">May</text>
<text x="1566.2" y="703.4" font-size="10.6" fill="#5c5c5c" text-anchor="middle">7</text>
<text x="1594.6" y="703.4" font-size="10.6" fill="#5c5c5c" text-anchor="middle">13</text>
<text x="1622.9" y="703.4" font-size="10.6" fill="#5c5c5c" text-anchor="middle">17</text>
<path d="M0.00,687v3M28.35,687v3M56.70,687v3M85.04,687v3M113.39,687v3M155.91,687v3M184.26,687v3M212.61,687v3M240.96,687v3M269.31,687v3M297.65,687v3M318.91,687v3M347.26,687v3M375.61,687v3M403.96,687v3M432.31,687v3M460.65,687v3M489.00,687v3M517.35,687v3M545.70,687v3M574.05,687v3M602.39,687v3M623.66,687v3M652.00,687v3M680.35,687v3M708.70,687v3M737.05,687v3M779.57,687v3M807.92,687v3M836.27,687v3M864.61,687v3M892.96,687v3M928.40,687v3M956.75,687v3M985.09,687v3M1013.44,687v3M1041.79,687v3M1070.14,687v3M1091.40,687v3M1119.75,687v3M1148.09,687v3M1176.44,687v3M1204.79,687v3M1233.14,687v3M1261.49,687v3M1289.83,687v3M1318.18,687v3M1346.53,687v3M1381.96,687v3M1410.31,687v3M1438.66,687v3M1467.01,687v3M1495.36,687v3M1537.88,687v3M1566.23,687v3M1594.58,687v3M1622.92,687v3" stroke="#9a9a9a" stroke-width="1" fill="none"/>
<rect x="5" y="5" width="80" height="21.5" fill="#4a4a4a" fill-opacity="0.86"/>
<rect x="5" y="5" width="3" height="21.5" fill="#000000"/>
<text x="17" y="20.7" font-size="11" font-weight="bold" fill="#ffffff">GBP/USD</text>
<rect x="5" y="32" width="85" height="21.5" fill="#4a4a4a" fill-opacity="0.86"/>
<rect x="5" y="32" width="3" height="21.5" fill="#f7931a"/>
<text x="17" y="47.7" font-size="11" font-weight="bold" fill="#ffffff">SMA (50,0)</text>
<rect x="5" y="59" width="91" height="21.5" fill="#4a4a4a" fill-opacity="0.86"/>
<rect x="5" y="59" width="3" height="21.5" fill="#1552b0"/>
<text x="17" y="74.7" font-size="11" font-weight="bold" fill="#ffffff">SMA (100,0)</text>
<rect x="5" y="86" width="91" height="21.5" fill="#4a4a4a" fill-opacity="0.86"/>
<rect x="5" y="86" width="3" height="21.5" fill="#ff1ef0"/>
<text x="17" y="101.7" font-size="11" font-weight="bold" fill="#ffffff">SMA (200,0)</text>
<g transform="translate(8,632) scale(0.07496)">
<path fill="#8e919d" d="M100,110H250V160H160V258H228V305H160V462H100Z M272,110H332L352,215L372,110H432L384,286L432,462H372L352,357L332,462H272L320,286Z"/>
<path fill="none" stroke="#efbd82" stroke-width="58" d="M586,225V185Q586,137 531,137Q477,137 477,185V210Q477,245 531,288Q586,330 586,368V390Q586,435 531,435Q477,435 477,390V365"/>
<path fill="#efbd82" fill-rule="evenodd" d="M625,110H800V160H745V462H682V160H625Z M815,110H920Q990,110 990,180V235Q990,290 945,305L990,462H928L888,312H875V462H815Z M875,160V262H905Q930,262 930,235V187Q930,160 905,160Z M1008,110H1175V160H1068V258H1135V308H1068V412H1175V462H1008Z M1195,110H1362V160H1255V258H1322V308H1255V412H1362V462H1195Z M1385,110H1553V160H1497V462H1440V160H1385Z"/>
</g>
</svg>
</body></html>
